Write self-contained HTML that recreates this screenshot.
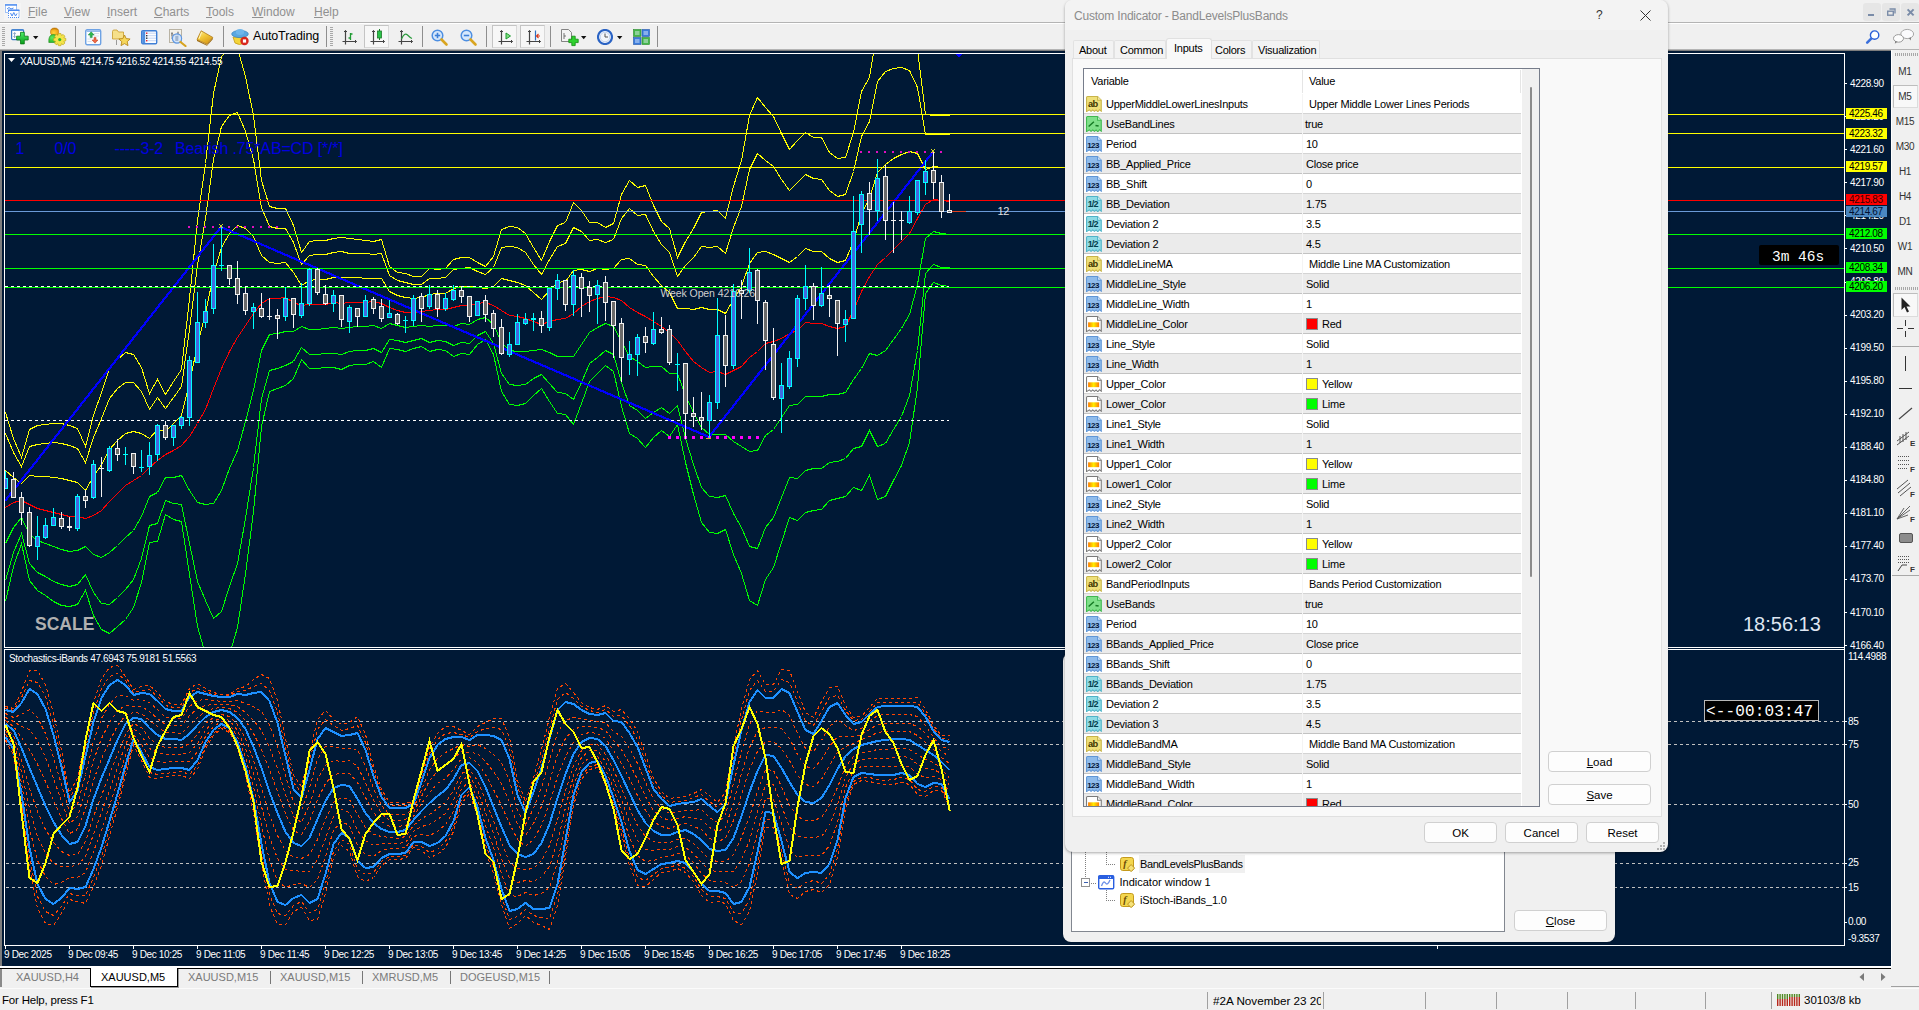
<!DOCTYPE html>
<html><head><meta charset="utf-8"><title>MT4</title><style>
html,body{margin:0;padding:0}
body{width:1919px;height:1010px;overflow:hidden;position:relative;background:#f0f0f0;font-family:"Liberation Sans",sans-serif;font-size:11px;color:#000}
.a{position:absolute}
.t{position:absolute;white-space:pre;line-height:1}
.menu{font-size:12px;color:#909090;top:6px}
.ct{font-size:10px;letter-spacing:-0.35px;color:#fff}
.pl{position:absolute;left:1846px;width:41px;height:11px;font-size:10px;letter-spacing:-0.35px;line-height:11px;text-indent:3px;white-space:pre}
.btn{position:absolute;box-sizing:border-box;border:1px solid #d0d0d0;border-radius:4px;background:#fdfdfd;font-size:11.5px;text-align:center;line-height:20.5px;height:21px}
.row{position:absolute;left:1084px;width:437px;height:20px}
.rt{position:absolute;white-space:pre;font-size:11px;letter-spacing:-0.25px;line-height:1;top:5px}
.tf{position:absolute;left:1891px;width:28px;text-align:center;font-size:10px;letter-spacing:-0.3px;color:#333;line-height:1}
.sw{position:absolute;left:1307px;top:4px;width:11px;height:11px;border:1px solid #7a7a7a;box-sizing:content-box}
</style></head><body>
<div class="a" style="left:0;top:0;width:1919px;height:22px;background:#f1f1f1"></div>
<div class="a" style="left:0;top:22px;width:1919px;height:1px;background:#b4b4b4"></div>
<div class="a" style="left:0;top:23px;width:1919px;height:1px;background:#fff"></div>
<div class="t menu" style="left:28px"><u>F</u>ile</div>
<div class="t menu" style="left:64px"><u>V</u>iew</div>
<div class="t menu" style="left:107px"><u>I</u>nsert</div>
<div class="t menu" style="left:154px"><u>C</u>harts</div>
<div class="t menu" style="left:206px"><u>T</u>ools</div>
<div class="t menu" style="left:252px"><u>W</u>indow</div>
<div class="t menu" style="left:314px"><u>H</u>elp</div>
<div class="a" style="left:4px;top:3px;width:17px;height:17px;background:#f5f5f5"></div>
<svg class="a" style="left:4px;top:3px" width="17" height="17" viewBox="4 3 17 17"><rect x="5.5" y="4.5" width="11" height="8" fill="#fff" stroke="#4a8af0" stroke-dasharray="1 1"/><path d="M5 5 h12" stroke="#4a8af0" stroke-width="1.4"/><path d="M7 9 l2 -1.5 l2 1.5 l2.5 -1" stroke="#4a8af0" fill="none"/><rect x="8.5" y="10" width="10.5" height="7.5" fill="#fff" stroke="#4a8af0" stroke-dasharray="1 1"/><path d="M8 10.3 h11.5" stroke="#4a8af0" stroke-width="1.4"/><path d="M10.5 13 l1.5 3 l1.8 -3.5 l1.7 3.5 l1.5 -2.5" stroke="#4a8af0" fill="none" stroke-width="1"/></svg>
<div class="a" style="left:1863px;top:3px;width:18px;height:18px;background:#e6e6e6;border-radius:3px"></div>
<div class="a" style="left:1882px;top:3px;width:18px;height:18px;background:#e6e6e6;border-radius:3px"></div>
<div class="a" style="left:1901px;top:3px;width:18px;height:18px;background:#e6e6e6;border-radius:3px"></div>
<svg class="a" style="left:1863px;top:3px" width="56" height="18" viewBox="1863 3 56 18"><path d="M1868 15 h6" stroke="#7a8ca8" stroke-width="2"/><path d="M1889.5 9 h5.5 v4.5" stroke="#7a8ca8" stroke-width="1.4" fill="none"/><rect x="1887.7" y="11.2" width="5.6" height="4" fill="none" stroke="#7a8ca8" stroke-width="1.4"/><path d="M1907.6 9.4 l6 6 M1913.6 9.4 l-6 6" stroke="#7a8ca8" stroke-width="2"/></svg>
<div class="a" style="left:0;top:24px;width:1919px;height:26px;background:#f0f0f0"></div>
<div class="a" style="left:0;top:49px;width:1919px;height:1px;background:#b4b4b4"></div>
<div class="a" style="left:2px;top:27px;width:3px;height:19px;background:repeating-linear-gradient(to bottom,#a8a8a8 0,#a8a8a8 1px,transparent 1px,transparent 2px)"></div>
<svg class="a" style="left:11px;top:29px" width="18" height="16" viewBox="0 0 18 16" ><defs><linearGradient id="gp" x1="0" y1="0" x2="0" y2="1"><stop offset="0" stop-color="#4cf06a"/><stop offset="1" stop-color="#0a9a1a"/></linearGradient></defs><rect x="0.6" y="0.6" width="12" height="10" rx="1" fill="#fff" stroke="#3a7ac8" stroke-width="1.2"/><path d="M1 1.3 h11.2" stroke="#5b98e0" stroke-width="1.4"/><path d="M3.6 3.6 V8.6 M2.4 4.8 l1.2 -1.2 l1.2 1.2 M2.4 7.4 l1.2 1.2 l1.2 -1.2" stroke="#7a98c0" stroke-width="0.9" fill="none"/><path d="M5.6 7.2 h3.9 v-3.9 h3.8 v3.9 h3.9 v3.8 h-3.9 v3.9 h-3.8 v-3.9 h-3.9z" fill="url(#gp)" stroke="#0a7a14" stroke-width="0.8"/></svg>
<svg class="a" style="left:33px;top:36px" width="6" height="4" viewBox="0 0 6 4" ><path d="M0 0 H5.4 L2.7 3.2 Z" fill="#111"/></svg>
<svg class="a" style="left:48px;top:27px" width="20" height="20" viewBox="0 0 20 20" ><defs><radialGradient id="hd" cx="0.4" cy="0.6" r="0.7"><stop offset="0" stop-color="#ffd23a"/><stop offset="1" stop-color="#e8920a"/></radialGradient><radialGradient id="bd" cx="0.35" cy="0.4" r="0.8"><stop offset="0" stop-color="#5fe85f"/><stop offset="1" stop-color="#18a818"/></radialGradient></defs><ellipse cx="6.6" cy="4.9" rx="4.1" ry="3.9" fill="url(#hd)" stroke="#b8700a" stroke-width="0.6"/><path d="M2.6 2.8 q4 -3.5 8 0 q-4 -1.2 -8 0z" fill="#c07a08"/><path d="M0.8 15.5 q-0.6 -8 4.6 -8 q5.2 0 5 8z" fill="url(#bd)" stroke="#1c8a1c" stroke-width="0.6"/><path d="M17.78 11.37 L17.78 13.83 L15.86 14.31 L15.85 14.33 L16.87 16.03 L15.13 17.77 L13.43 16.75 L13.41 16.76 L12.93 18.68 L10.47 18.68 L9.99 16.76 L9.97 16.75 L8.27 17.77 L6.53 16.03 L7.55 14.33 L7.54 14.31 L5.62 13.83 L5.62 11.37 L7.54 10.89 L7.55 10.87 L6.53 9.17 L8.27 7.43 L9.97 8.45 L9.99 8.44 L10.47 6.52 L12.93 6.52 L13.41 8.44 L13.43 8.45 L15.13 7.43 L16.87 9.17 L15.85 10.87 L15.86 10.89Z" fill="#f3e44a" stroke="#c2a61a" stroke-width="0.7"/><circle cx="11.7" cy="12.6" r="1.6" fill="#2fb52a"/></svg>
<div class="a" style="left:75px;top:26px;width:1px;height:21px;background:#8e8e8e"></div>
<svg class="a" style="left:85px;top:29px" width="17" height="17" viewBox="0 0 17 17" ><rect x="0.7" y="0.7" width="15" height="15" rx="1.5" fill="#fbfdff" stroke="#6ea2e4" stroke-width="1.4"/><path d="M1.5 2.2 h13.5" stroke="#8ab4ea" stroke-width="1.4"/><path d="M9 4.5 h5 M9 7 h5 M2.5 10 h4 M2.5 12.5 h4" stroke="#d0d8e4" stroke-width="0.8"/><path d="M5.2 8.6 v-2.6 h-2 l3 -3.2 l3 3.2 h-2 v2.6z" fill="#2fb84f" stroke="#14803a" stroke-width="0.5"/><path d="M9 8.4 v2.6 h-2 l3 3.2 l3 -3.2 h-2 v-2.6z" fill="#f06a44" stroke="#b83a1c" stroke-width="0.5"/></svg>
<svg class="a" style="left:112px;top:29px" width="19" height="17" viewBox="0 0 19 17" ><path d="M0.5 2.5 q0 -1.5 1.5 -1.5 h3 l1.5 2 h5 v7 h-11z" fill="#f6e08a" stroke="#c79b2c" stroke-width="0.8"/><path d="M4.5 11.5 v4.5" stroke="#444" stroke-width="1" stroke-dasharray="1 1"/><path d="M12.5 6 l1.7 3.6 l3.9 0.4 l-2.9 2.7 l0.8 3.9 l-3.5 -2 l-3.5 2 l0.8 -3.9 l-2.9 -2.7 l3.9 -0.4z" fill="#f6d75a" stroke="#b8881c" stroke-width="0.9"/></svg>
<svg class="a" style="left:141px;top:30px" width="17" height="15" viewBox="0 0 17 15" ><rect x="0.7" y="0.7" width="15" height="13" rx="1.2" fill="#fdfdff" stroke="#3f7fd6" stroke-width="1.4"/><rect x="1.2" y="1.2" width="3" height="12" fill="#4f8fe0"/><path d="M5 3.2 h10 M5 5.7 h10 M5 8.2 h10 M5 10.7 h10" stroke="#b8cdf0" stroke-width="0.8"/><rect x="5" y="2.5" width="1.4" height="1.4" fill="#e22"/><rect x="5" y="5" width="1.4" height="1.4" fill="#333"/><rect x="5" y="7.5" width="1.4" height="1.4" fill="#333"/><rect x="5" y="10" width="1.4" height="1.4" fill="#e22"/></svg>
<svg class="a" style="left:169px;top:29px" width="19" height="18" viewBox="0 0 19 18" ><rect x="0.5" y="0.5" width="12" height="13" fill="#f4f1ea" stroke="#b9b3a4"/><path d="M3 3 v7 M2 4.5 h2 M9 2.5 v7 M8 4 h2 M2 6 h9" stroke="#777" stroke-width="0.8"/><circle cx="8" cy="9.5" r="4.6" fill="#cfe3fb" fill-opacity="0.85" stroke="#5d97e3" stroke-width="1.2"/><rect x="6.3" y="7" width="3" height="5" fill="#9fb4cf"/><path d="M11.5 13 l5 4" stroke="#d7a320" stroke-width="2.2" stroke-linecap="round"/></svg>
<svg class="a" style="left:196px;top:30px" width="18" height="16" viewBox="0 0 18 16" ><defs><linearGradient id="bk" x1="0" y1="0" x2="0.6" y2="1"><stop offset="0" stop-color="#fff0a0"/><stop offset="0.5" stop-color="#f2c83a"/><stop offset="1" stop-color="#d89a1a"/></linearGradient></defs><path d="M1 9.5 L11 14.9 L16.8 7.6 L16.8 9.2 L11 15.8 L1 11z" fill="#9a6a14"/><path d="M5.2 0.8 L16.8 7.4 L11 14.3 L1 9.6 Z" fill="url(#bk)" stroke="#b07a16" stroke-width="0.8"/><path d="M5.6 2.2 L3 8.8" stroke="#fff6c0" stroke-width="1"/></svg>
<div class="a" style="left:223px;top:26px;width:1px;height:21px;background:#8e8e8e"></div>
<svg class="a" style="left:231px;top:28px" width="19" height="18" viewBox="0 0 19 18" ><path d="M2 9 h13 l-2 6 q-4.5 3 -9 0z" fill="#f3d43a" stroke="#c49a18" stroke-width="0.8"/><ellipse cx="9" cy="6" rx="8.3" ry="3.6" fill="#5aa7e0" stroke="#2f7fc0" stroke-width="0.7"/><ellipse cx="9" cy="4" rx="4.2" ry="3" fill="#6fb6ea"/><circle cx="13.5" cy="13" r="4.2" fill="#d8261c"/><rect x="11.9" y="11.4" width="3.2" height="3.2" fill="#fff"/></svg>
<div class="t" style="left:253px;top:30px;font-size:12.5px;letter-spacing:-0.15px;color:#000">AutoTrading</div>
<div class="a" style="left:326px;top:26px;width:1px;height:21px;background:#8e8e8e"></div>
<div class="a" style="left:330px;top:27px;width:3px;height:19px;background:repeating-linear-gradient(to bottom,#a8a8a8 0,#a8a8a8 1px,transparent 1px,transparent 2px)"></div>
<svg class="a" style="left:342px;top:30px" width="15" height="15" viewBox="0 0 15 15" ><path d="M3.5 0.5 v14 M0.5 11.5 h14" stroke="#444" stroke-width="1.2"/><path d="M2 2 l1.5 -1.5 l1.5 1.5 M13 10 l1.5 1.5 l-1.5 1.5" stroke="#444" fill="none"/><path d="M8.5 3 v7 M6.5 8 h2 M8.5 4 h2" stroke="#1e9a32" stroke-width="1.3"/></svg>
<div class="a" style="left:364px;top:25px;width:25px;height:23px;box-sizing:border-box;background:#f7f7f7;border:1px solid #d9d9d9;border-top-color:#c4c4c4;border-left-color:#c4c4c4"></div>
<svg class="a" style="left:370px;top:29px" width="15" height="16" viewBox="0 0 15 16" ><path d="M3.5 1.5 v14 M0.5 12.5 h14" stroke="#444" stroke-width="1.2"/><path d="M2 3 l1.5 -1.5 l1.5 1.5 M13 11 l1.5 1.5 l-1.5 1.5" stroke="#444" fill="none"/><path d="M9.5 0 v11" stroke="#1e7a28"/><rect x="7.5" y="2" width="4" height="7" fill="#2bc24a" stroke="#1e7a28" stroke-width="0.8"/></svg>
<svg class="a" style="left:398px;top:30px" width="15" height="15" viewBox="0 0 15 15" ><path d="M3.5 0.5 v14 M0.5 11.5 h14" stroke="#444" stroke-width="1.2"/><path d="M2 2 l1.5 -1.5 l1.5 1.5 M13 10 l1.5 1.5 l-1.5 1.5" stroke="#444" fill="none"/><path d="M3.5 9 q3 -7 6 -4 t4.5 3.5" stroke="#2a9a3c" stroke-width="1.2" fill="none"/></svg>
<div class="a" style="left:422px;top:26px;width:1px;height:21px;background:#8e8e8e"></div>
<svg class="a" style="left:431px;top:29px" width="18" height="18" viewBox="0 0 18 18" ><circle cx="6.5" cy="6.5" r="5.3" fill="#d6e8fc" stroke="#4d8fe2" stroke-width="1.5"/><path d="M10.5 10.5 l5 5" stroke="#d9a520" stroke-width="2.6" stroke-linecap="round"/><path d="M3.8 6.5 h5.4" stroke="#3c7fd8" stroke-width="1.6"/><path d="M6.5 3.8 v5.4" stroke="#3c7fd8" stroke-width="1.6"/></svg>
<svg class="a" style="left:460px;top:29px" width="18" height="18" viewBox="0 0 18 18" ><circle cx="6.5" cy="6.5" r="5.3" fill="#d6e8fc" stroke="#4d8fe2" stroke-width="1.5"/><path d="M10.5 10.5 l5 5" stroke="#d9a520" stroke-width="2.6" stroke-linecap="round"/><path d="M3.8 6.5 h5.4" stroke="#3c7fd8" stroke-width="1.6"/></svg>
<div class="a" style="left:486px;top:26px;width:1px;height:21px;background:#8e8e8e"></div>
<div class="a" style="left:492px;top:25px;width:25px;height:23px;box-sizing:border-box;background:#f7f7f7;border:1px solid #d9d9d9;border-top-color:#c4c4c4;border-left-color:#c4c4c4"></div>
<svg class="a" style="left:498px;top:30px" width="15" height="15" viewBox="0 0 15 15" ><path d="M3.5 0.5 v14 M0.5 11.5 h14" stroke="#444" stroke-width="1.2"/><path d="M2 2 l1.5 -1.5 l1.5 1.5 M13 10 l1.5 1.5 l-1.5 1.5" stroke="#444" fill="none"/><path d="M8 3 l4.5 3 l-4.5 3z" fill="#7fe07f" stroke="#1e9a32" stroke-width="1"/></svg>
<div class="a" style="left:520px;top:25px;width:25px;height:23px;box-sizing:border-box;background:#f7f7f7;border:1px solid #d9d9d9;border-top-color:#c4c4c4;border-left-color:#c4c4c4"></div>
<svg class="a" style="left:526px;top:30px" width="15" height="15" viewBox="0 0 15 15" ><path d="M3.5 0.5 v14 M0.5 11.5 h14" stroke="#444" stroke-width="1.2"/><path d="M2 2 l1.5 -1.5 l1.5 1.5 M13 10 l1.5 1.5 l-1.5 1.5" stroke="#444" fill="none"/><path d="M9.5 0.5 v10" stroke="#2b6fc4" stroke-width="1.2"/><path d="M14 6 h-3.5 M12.5 4 l-2 2 l2 2" stroke="#d83a1c" stroke-width="1.1" fill="none"/></svg>
<div class="a" style="left:550px;top:26px;width:1px;height:21px;background:#8e8e8e"></div>
<svg class="a" style="left:561px;top:29px" width="18" height="18" viewBox="0 0 18 18" ><path d="M0.5 0.5 h7 l3 3 v9 h-10z" fill="#f4f4f4" stroke="#777" stroke-width="0.9"/><path d="M3 4 v6 M3 7 h2" stroke="#555" stroke-width="0.8"/><path d="M9 8 h3 v-3 h3.4 v3 h3 v3.4 h-3 v3 h-3.4 v-3 h-3z" transform="translate(-1.2,2.2)" fill="#2fd12f" stroke="#0c8a0c" stroke-width="0.8"/></svg>
<svg class="a" style="left:581px;top:36px" width="6" height="4" viewBox="0 0 6 4" ><path d="M0 0 H5.4 L2.7 3.2 Z" fill="#111"/></svg>
<svg class="a" style="left:597px;top:29px" width="16" height="16" viewBox="0 0 16 16" ><circle cx="8" cy="8" r="7" fill="#fff" stroke="#2a63c4" stroke-width="2.2"/><circle cx="8" cy="8" r="4.8" fill="#f3f6fb" stroke="#9bb6e0" stroke-width="0.6"/><path d="M8 4.5 V8 H11" stroke="#555" stroke-width="1" fill="none"/></svg>
<svg class="a" style="left:617px;top:36px" width="6" height="4" viewBox="0 0 6 4" ><path d="M0 0 H5.4 L2.7 3.2 Z" fill="#111"/></svg>
<svg class="a" style="left:633px;top:29px" width="17" height="16" viewBox="0 0 17 16" ><rect x="0.5" y="0.5" width="7.5" height="7" fill="#43b649" stroke="#2a8a30" stroke-width="0.6"/><rect x="9" y="0.5" width="7.5" height="7" fill="#3a7bdc" stroke="#2458a8" stroke-width="0.6"/><rect x="0.5" y="8.5" width="7.5" height="7" fill="#3a7bdc" stroke="#2458a8" stroke-width="0.6"/><rect x="9" y="8.5" width="7.5" height="7" fill="#43b649" stroke="#2a8a30" stroke-width="0.6"/><path d="M2 3 h4.5 M2 5 h4.5 M10.5 3 h4.5 M10.5 5 h4.5 M2 11 h4.5 M2 13 h4.5 M10.5 11 h4.5 M10.5 13 h4.5" stroke="#e8f2ff" stroke-width="0.9"/></svg>
<div class="a" style="left:657px;top:26px;width:1px;height:21px;background:#8e8e8e"></div>
<svg class="a" style="left:1864px;top:29px" width="16" height="16" viewBox="0 0 16 16" ><circle cx="10.6" cy="6.1" r="4.2" fill="#fff" stroke="#2a5fd8" stroke-width="1.4"/><path d="M7.2 9.6 l-4 4" stroke="#3a6fdc" stroke-width="2.6" stroke-linecap="round"/></svg>
<svg class="a" style="left:1892px;top:28px" width="24" height="18" viewBox="0 0 24 18" ><ellipse cx="15.2" cy="6" rx="6.4" ry="4.6" fill="#fbfbfd" stroke="#a8a8a8"/><path d="M17 10 l1.6 2.4 l0.4 -2.8" fill="#777"/><ellipse cx="6.5" cy="10.4" rx="5" ry="3.8" fill="#fdfdfd" stroke="#9a9a9a"/><path d="M3.4 13 l-0.6 2.8 l2.6 -2" fill="#777"/></svg>
<div class="a" style="left:0;top:50px;width:1891px;height:916px;background:#7d7d7d"></div>
<div class="a" style="left:2px;top:51px;width:1889px;height:915px;background:#001936"></div>
<div class="a" style="left:0;top:966px;width:1891px;height:2px;background:#fff"></div>
<svg class="a" style="left:0;top:0" width="1919" height="1010" viewBox="0 0 1919 1010" shape-rendering="crispEdges"><defs><clipPath id="mc"><rect x="5" y="54" width="1839" height="593"/></clipPath></defs><polyline points="5.5,412.5 13.5,438.5 21.5,457.5 29.5,429.5 37.5,425.5 45.5,424.5 53.5,423.5 61.5,423.5 69.5,425.5 77.5,428.5 85.5,446.5 93.5,415.5 101.5,392.5 109.5,368.5 117.5,359.5 125.5,352.5 133.5,354.5 141.5,367.5 149.5,393.5 157.5,379.5 165.5,394.5 173.5,381.5 181.5,369.5 189.5,298.5 197.5,220.5 205.5,163.5 213.5,93.5 221.5,56.5 229.5,47.5 237.5,48.5 245.5,76.5 253.5,115.5 261.5,180.5 269.5,206.5 277.5,208.5 285.5,208.5 293.5,225.5 301.5,252.5 309.5,241.5 317.5,240.5 325.5,240.5 333.5,238.5 341.5,237.5 349.5,238.5 357.5,239.5 365.5,240.5 373.5,241.5 381.5,239.5 389.5,266.5 397.5,272.5 405.5,273.5 413.5,276.5 421.5,276.5 429.5,268.5 437.5,269.5 445.5,268.5 453.5,259.5 461.5,257.5 469.5,257.5 477.5,262.5 485.5,266.5 493.5,256.5 501.5,229.5 509.5,226.5 517.5,227.5 525.5,233.5 533.5,247.5 541.5,260.5 549.5,241.5 557.5,225.5 565.5,222.5 573.5,202.5 581.5,210.5 589.5,222.5 597.5,222.5 605.5,227.5 613.5,223.5 621.5,194.5 629.5,180.5 637.5,187.5 645.5,185.5 653.5,205.5 661.5,221.5 669.5,228.5 677.5,257.5 685.5,241.5 693.5,228.5 701.5,212.5 709.5,211.5 717.5,210.5 725.5,218.5 733.5,186.5 741.5,160.5 749.5,115.5 757.5,97.5 765.5,107.5 773.5,116.5 781.5,133.5 789.5,149.5 797.5,140.5 805.5,132.5 813.5,137.5 821.5,137.5 829.5,152.5 837.5,158.5 845.5,157.5 853.5,132.5 861.5,91.5 869.5,77.5 877.5,29.5 885.5,18.5 893.5,17.5 901.5,17.5 909.5,23.5 917.5,49.5 925.5,114.5 933.5,115.5 941.5,115.5 949.5,115.5" fill="none" stroke="#ffff00" stroke-width="1" clip-path="url(#mc)"/><polyline points="5.5,433.5 13.5,452.5 21.5,466.5 29.5,446.5 37.5,444.5 45.5,443.5 53.5,442.5 61.5,443.5 69.5,445.5 77.5,448.5 85.5,462.5 93.5,437.5 101.5,418.5 109.5,398.5 117.5,388.5 125.5,382.5 133.5,382.5 141.5,391.5 149.5,409.5 157.5,397.5 165.5,408.5 173.5,397.5 181.5,386.5 189.5,329.5 197.5,265.5 205.5,218.5 213.5,159.5 221.5,126.5 229.5,115.5 237.5,112.5 245.5,131.5 253.5,159.5 261.5,207.5 269.5,226.5 277.5,228.5 285.5,228.5 293.5,242.5 301.5,264.5 309.5,255.5 317.5,254.5 325.5,254.5 333.5,252.5 341.5,251.5 349.5,253.5 357.5,253.5 365.5,253.5 373.5,254.5 381.5,253.5 389.5,275.5 397.5,280.5 405.5,282.5 413.5,284.5 421.5,284.5 429.5,278.5 437.5,278.5 445.5,277.5 453.5,269.5 461.5,268.5 469.5,267.5 477.5,271.5 485.5,274.5 493.5,267.5 501.5,247.5 509.5,246.5 517.5,247.5 525.5,252.5 533.5,264.5 541.5,274.5 549.5,259.5 557.5,246.5 565.5,243.5 573.5,227.5 581.5,231.5 589.5,240.5 597.5,239.5 605.5,242.5 613.5,239.5 621.5,218.5 629.5,208.5 637.5,215.5 645.5,214.5 653.5,231.5 661.5,244.5 669.5,252.5 677.5,276.5 685.5,265.5 693.5,257.5 701.5,246.5 709.5,247.5 717.5,246.5 725.5,253.5 733.5,227.5 741.5,206.5 749.5,169.5 757.5,153.5 765.5,160.5 773.5,166.5 781.5,179.5 789.5,190.5 797.5,182.5 805.5,174.5 813.5,178.5 821.5,179.5 829.5,190.5 837.5,196.5 845.5,194.5 853.5,171.5 861.5,136.5 869.5,121.5 877.5,81.5 885.5,71.5 893.5,68.5 901.5,67.5 909.5,70.5 917.5,87.5 925.5,134.5 933.5,134.5 941.5,134.5 949.5,134.5" fill="none" stroke="#ffff00" stroke-width="1" clip-path="url(#mc)"/><polyline points="5.5,470.5 13.5,477.5 21.5,483.5 29.5,475.5 37.5,476.5 45.5,476.5 53.5,477.5 61.5,478.5 69.5,480.5 77.5,482.5 85.5,490.5 93.5,476.5 101.5,464.5 109.5,449.5 117.5,440.5 125.5,433.5 133.5,431.5 141.5,433.5 149.5,438.5 157.5,429.5 165.5,431.5 173.5,423.5 181.5,415.5 189.5,383.5 197.5,344.5 205.5,313.5 213.5,274.5 221.5,247.5 229.5,233.5 237.5,225.5 245.5,228.5 253.5,236.5 261.5,255.5 269.5,262.5 277.5,263.5 285.5,262.5 293.5,272.5 301.5,285.5 309.5,280.5 317.5,279.5 325.5,279.5 333.5,277.5 341.5,277.5 349.5,277.5 357.5,277.5 365.5,278.5 373.5,278.5 381.5,278.5 389.5,291.5 397.5,295.5 405.5,297.5 413.5,298.5 421.5,297.5 429.5,294.5 437.5,293.5 445.5,293.5 453.5,288.5 461.5,286.5 469.5,286.5 477.5,287.5 485.5,288.5 493.5,286.5 501.5,278.5 509.5,280.5 517.5,282.5 525.5,285.5 533.5,292.5 541.5,299.5 549.5,290.5 557.5,282.5 565.5,281.5 573.5,270.5 581.5,269.5 589.5,271.5 597.5,268.5 605.5,269.5 613.5,268.5 621.5,259.5 629.5,258.5 637.5,264.5 645.5,265.5 653.5,276.5 661.5,285.5 669.5,292.5 677.5,308.5 685.5,308.5 693.5,309.5 701.5,307.5 709.5,309.5 717.5,309.5 725.5,313.5 733.5,299.5 741.5,286.5 749.5,263.5 757.5,252.5 765.5,251.5 773.5,254.5 781.5,258.5 789.5,262.5 797.5,256.5 805.5,248.5 813.5,251.5 821.5,251.5 829.5,258.5 837.5,262.5 845.5,260.5 853.5,241.5 861.5,213.5 869.5,198.5 877.5,172.5 885.5,164.5 893.5,158.5 901.5,154.5 909.5,151.5 917.5,153.5 925.5,169.5 933.5,166.5 941.5,167.5 949.5,167.5" fill="none" stroke="#ffff00" stroke-width="1" clip-path="url(#mc)"/><polyline points="5.5,601.5 13.5,566.5 21.5,543.5 29.5,580.5 37.5,590.5 45.5,595.5 53.5,601.5 61.5,605.5 69.5,606.5 77.5,604.5 85.5,590.5 93.5,615.5 101.5,629.5 109.5,633.5 117.5,626.5 125.5,619.5 133.5,607.5 141.5,582.5 149.5,542.5 157.5,541.5 165.5,514.5 173.5,519.5 181.5,521.5 189.5,574.5 197.5,626.5 205.5,654.5 213.5,684.5 221.5,680.5 229.5,654.5 237.5,627.5 245.5,573.5 253.5,511.5 261.5,426.5 269.5,391.5 277.5,388.5 285.5,385.5 293.5,378.5 301.5,359.5 309.5,368.5 317.5,368.5 325.5,367.5 333.5,367.5 341.5,369.5 349.5,365.5 357.5,364.5 365.5,364.5 373.5,361.5 381.5,367.5 389.5,348.5 397.5,349.5 405.5,351.5 413.5,348.5 421.5,346.5 429.5,351.5 437.5,349.5 445.5,350.5 453.5,356.5 461.5,353.5 469.5,354.5 477.5,344.5 485.5,339.5 493.5,354.5 501.5,391.5 509.5,404.5 517.5,405.5 525.5,403.5 533.5,395.5 541.5,388.5 549.5,401.5 557.5,413.5 565.5,414.5 573.5,424.5 581.5,403.5 589.5,381.5 597.5,373.5 605.5,365.5 613.5,371.5 621.5,406.5 629.5,433.5 637.5,438.5 645.5,447.5 653.5,437.5 661.5,430.5 669.5,436.5 677.5,424.5 685.5,462.5 693.5,494.5 701.5,522.5 709.5,532.5 717.5,533.5 725.5,529.5 733.5,554.5 741.5,573.5 749.5,600.5 757.5,605.5 765.5,579.5 773.5,567.5 781.5,542.5 789.5,517.5 797.5,520.5 805.5,512.5 813.5,510.5 821.5,509.5 829.5,500.5 837.5,498.5 845.5,496.5 853.5,487.5 861.5,490.5 869.5,475.5 877.5,499.5 885.5,496.5 893.5,480.5 901.5,465.5 909.5,442.5 917.5,387.5 925.5,293.5 933.5,282.5 941.5,285.5 949.5,286.5" fill="none" stroke="#00ff00" stroke-width="1" clip-path="url(#mc)"/><polyline points="5.5,580.5 13.5,552.5 21.5,533.5 29.5,563.5 37.5,572.5 45.5,576.5 53.5,581.5 61.5,584.5 69.5,586.5 77.5,584.5 85.5,574.5 93.5,592.5 101.5,603.5 109.5,604.5 117.5,597.5 125.5,589.5 133.5,579.5 141.5,558.5 149.5,525.5 157.5,523.5 165.5,500.5 173.5,503.5 181.5,504.5 189.5,543.5 197.5,581.5 205.5,600.5 213.5,618.5 221.5,611.5 229.5,586.5 237.5,563.5 245.5,518.5 253.5,467.5 261.5,398.5 269.5,370.5 277.5,368.5 285.5,365.5 293.5,361.5 301.5,347.5 309.5,354.5 317.5,354.5 325.5,353.5 333.5,353.5 341.5,354.5 349.5,351.5 357.5,350.5 365.5,350.5 373.5,348.5 381.5,352.5 389.5,339.5 397.5,340.5 405.5,342.5 413.5,340.5 421.5,338.5 429.5,342.5 437.5,340.5 445.5,341.5 453.5,345.5 461.5,342.5 469.5,343.5 477.5,335.5 485.5,331.5 493.5,343.5 501.5,373.5 509.5,384.5 517.5,385.5 525.5,384.5 533.5,378.5 541.5,374.5 549.5,383.5 557.5,392.5 565.5,393.5 573.5,399.5 581.5,382.5 589.5,363.5 597.5,357.5 605.5,350.5 613.5,354.5 621.5,382.5 629.5,405.5 637.5,410.5 645.5,418.5 653.5,412.5 661.5,407.5 669.5,413.5 677.5,405.5 685.5,438.5 693.5,464.5 701.5,487.5 709.5,496.5 717.5,497.5 725.5,495.5 733.5,513.5 741.5,527.5 749.5,546.5 757.5,548.5 765.5,527.5 773.5,517.5 781.5,497.5 789.5,477.5 797.5,478.5 805.5,470.5 813.5,468.5 821.5,468.5 829.5,462.5 837.5,461.5 845.5,458.5 853.5,448.5 861.5,446.5 869.5,430.5 877.5,446.5 885.5,443.5 893.5,429.5 901.5,416.5 909.5,395.5 917.5,350.5 925.5,273.5 933.5,264.5 941.5,267.5 949.5,267.5" fill="none" stroke="#00ff00" stroke-width="1" clip-path="url(#mc)"/><polyline points="5.5,543.5 13.5,527.5 21.5,517.5 29.5,534.5 37.5,540.5 45.5,543.5 53.5,546.5 61.5,549.5 69.5,551.5 77.5,550.5 85.5,546.5 93.5,554.5 101.5,557.5 109.5,552.5 117.5,545.5 125.5,537.5 133.5,530.5 141.5,516.5 149.5,496.5 157.5,492.5 165.5,477.5 173.5,477.5 181.5,475.5 189.5,490.5 197.5,502.5 205.5,504.5 213.5,503.5 221.5,490.5 229.5,468.5 237.5,450.5 245.5,421.5 253.5,390.5 261.5,350.5 269.5,334.5 277.5,333.5 285.5,331.5 293.5,331.5 301.5,326.5 309.5,329.5 317.5,329.5 325.5,328.5 333.5,327.5 341.5,328.5 349.5,327.5 357.5,326.5 365.5,326.5 373.5,325.5 381.5,328.5 389.5,323.5 397.5,325.5 405.5,327.5 413.5,326.5 421.5,325.5 429.5,326.5 437.5,325.5 445.5,325.5 453.5,326.5 461.5,323.5 469.5,324.5 477.5,319.5 485.5,317.5 493.5,324.5 501.5,342.5 509.5,350.5 517.5,351.5 525.5,351.5 533.5,350.5 541.5,349.5 549.5,352.5 557.5,356.5 565.5,356.5 573.5,356.5 581.5,344.5 589.5,332.5 597.5,327.5 605.5,323.5 613.5,326.5 621.5,341.5 629.5,356.5 637.5,361.5 645.5,367.5 653.5,366.5 661.5,366.5 669.5,373.5 677.5,373.5 685.5,395.5 693.5,412.5 701.5,427.5 709.5,434.5 717.5,434.5 725.5,434.5 733.5,441.5 741.5,446.5 749.5,451.5 757.5,450.5 765.5,435.5 773.5,429.5 781.5,417.5 789.5,405.5 797.5,404.5 805.5,396.5 813.5,396.5 821.5,396.5 829.5,394.5 837.5,394.5 845.5,392.5 853.5,379.5 861.5,368.5 869.5,353.5 877.5,355.5 885.5,350.5 893.5,339.5 901.5,328.5 909.5,314.5 917.5,284.5 925.5,238.5 933.5,231.5 941.5,233.5 949.5,234.5" fill="none" stroke="#00ff00" stroke-width="1" clip-path="url(#mc)"/><polyline points="5.5,507.5 13.5,502.5 21.5,500.5 29.5,504.5 37.5,508.5 45.5,510.5 53.5,512.5 61.5,514.5 69.5,516.5 77.5,516.5 85.5,518.5 93.5,515.5 101.5,510.5 109.5,501.5 117.5,493.5 125.5,485.5 133.5,480.5 141.5,475.5 149.5,467.5 157.5,460.5 165.5,454.5 173.5,450.5 181.5,445.5 189.5,436.5 197.5,423.5 205.5,409.5 213.5,388.5 221.5,368.5 229.5,351.5 237.5,337.5 245.5,325.5 253.5,313.5 261.5,303.5 269.5,298.5 277.5,298.5 285.5,297.5 293.5,302.5 301.5,305.5 309.5,304.5 317.5,304.5 325.5,304.5 333.5,302.5 341.5,303.5 349.5,302.5 357.5,302.5 365.5,302.5 373.5,301.5 381.5,303.5 389.5,307.5 397.5,310.5 405.5,312.5 413.5,312.5 421.5,311.5 429.5,310.5 437.5,309.5 445.5,309.5 453.5,307.5 461.5,305.5 469.5,305.5 477.5,303.5 485.5,302.5 493.5,305.5 501.5,310.5 509.5,315.5 517.5,316.5 525.5,318.5 533.5,321.5 541.5,324.5 549.5,321.5 557.5,319.5 565.5,318.5 573.5,313.5 581.5,306.5 589.5,301.5 597.5,298.5 605.5,296.5 613.5,297.5 621.5,300.5 629.5,307.5 637.5,312.5 645.5,316.5 653.5,321.5 661.5,326.5 669.5,332.5 677.5,340.5 685.5,351.5 693.5,361.5 701.5,367.5 709.5,372.5 717.5,371.5 725.5,374.5 733.5,370.5 741.5,366.5 749.5,357.5 757.5,351.5 765.5,343.5 773.5,341.5 781.5,338.5 789.5,333.5 797.5,330.5 805.5,322.5 813.5,323.5 821.5,323.5 829.5,326.5 837.5,328.5 845.5,326.5 853.5,310.5 861.5,291.5 869.5,276.5 877.5,264.5 885.5,257.5 893.5,249.5 901.5,241.5 909.5,233.5 917.5,218.5 925.5,204.5 933.5,199.5 941.5,200.5 949.5,201.5" fill="none" stroke="#ff0000" stroke-width="1" clip-path="url(#mc)"/><polyline points="5,501 221,227 709,437 933,152" fill="none" stroke="#0000ff" stroke-width="2.2" clip-path="url(#mc)"/><path d="M5 114.5 H1844" stroke="#ffff00" stroke-width="1"/><path d="M5 133.5 H1844" stroke="#ffff00" stroke-width="1"/><path d="M5 167.5 H1844" stroke="#ffff00" stroke-width="1"/><path d="M5 200.5 H1844" stroke="#ff0000" stroke-width="1"/><path d="M5 211.5 H1844" stroke="#6a9ad8" stroke-width="1"/><path d="M5 234.5 H1844" stroke="#00ff00" stroke-width="1"/><path d="M5 268.5 H1844" stroke="#00ff00" stroke-width="1"/><path d="M5 287.5 H1844" stroke="#00ff00" stroke-width="1"/><path d="M5 286.5 H949" stroke="#fff" stroke-width="1" stroke-dasharray="3 3" stroke-dashoffset="0"/><path d="M5 420.5 H949" stroke="#fff" stroke-width="1" stroke-dasharray="3 3" stroke-dashoffset="0"/><rect x="188" y="226" width="2" height="2" fill="#e010c0"/><rect x="860" y="151" width="2" height="2" fill="#e010c0"/><rect x="668" y="436" width="3" height="3" rx="1" fill="#ff00ff"/><rect x="196" y="226" width="2" height="2" fill="#e010c0"/><rect x="868" y="151" width="2" height="2" fill="#e010c0"/><rect x="676" y="436" width="3" height="3" rx="1" fill="#ff00ff"/><rect x="204" y="226" width="2" height="2" fill="#e010c0"/><rect x="876" y="151" width="2" height="2" fill="#e010c0"/><rect x="684" y="436" width="3" height="3" rx="1" fill="#ff00ff"/><rect x="212" y="226" width="2" height="2" fill="#e010c0"/><rect x="884" y="151" width="2" height="2" fill="#e010c0"/><rect x="692" y="436" width="3" height="3" rx="1" fill="#ff00ff"/><rect x="220" y="226" width="2" height="2" fill="#e010c0"/><rect x="892" y="151" width="2" height="2" fill="#e010c0"/><rect x="700" y="436" width="3" height="3" rx="1" fill="#ff00ff"/><rect x="228" y="226" width="2" height="2" fill="#e010c0"/><rect x="900" y="151" width="2" height="2" fill="#e010c0"/><rect x="708" y="436" width="3" height="3" rx="1" fill="#ff00ff"/><rect x="236" y="226" width="2" height="2" fill="#e010c0"/><rect x="908" y="151" width="2" height="2" fill="#e010c0"/><rect x="716" y="436" width="3" height="3" rx="1" fill="#ff00ff"/><rect x="244" y="226" width="2" height="2" fill="#e010c0"/><rect x="916" y="151" width="2" height="2" fill="#e010c0"/><rect x="724" y="436" width="3" height="3" rx="1" fill="#ff00ff"/><rect x="252" y="226" width="2" height="2" fill="#e010c0"/><rect x="924" y="151" width="2" height="2" fill="#e010c0"/><rect x="732" y="436" width="3" height="3" rx="1" fill="#ff00ff"/><rect x="260" y="226" width="2" height="2" fill="#e010c0"/><rect x="932" y="151" width="2" height="2" fill="#e010c0"/><rect x="740" y="436" width="3" height="3" rx="1" fill="#ff00ff"/><rect x="268" y="226" width="2" height="2" fill="#e010c0"/><rect x="940" y="151" width="2" height="2" fill="#e010c0"/><rect x="748" y="436" width="3" height="3" rx="1" fill="#ff00ff"/><rect x="276" y="226" width="2" height="2" fill="#e010c0"/><rect x="756" y="436" width="3" height="3" rx="1" fill="#ff00ff"/><g clip-path="url(#mc)"><path d="M5.5 471 V489" stroke="#00ffff" stroke-width="1"/><rect x="3" y="478" width="5" height="11" fill="#00ffff"/><rect x="4" y="479" width="3" height="9" fill="#4169e1"/><path d="M13.5 472 V498" stroke="#f2f2f2" stroke-width="1"/><rect x="11" y="479" width="5" height="19" fill="#f2f2f2"/><rect x="12" y="480" width="3" height="17" fill="#6a6a6a"/><path d="M21.5 492 V525" stroke="#f2f2f2" stroke-width="1"/><rect x="19" y="497" width="5" height="16" fill="#f2f2f2"/><rect x="20" y="498" width="3" height="14" fill="#6a6a6a"/><path d="M29.5 507 V547" stroke="#f2f2f2" stroke-width="1"/><rect x="27" y="512" width="5" height="34" fill="#f2f2f2"/><rect x="28" y="513" width="3" height="32" fill="#6a6a6a"/><path d="M37.5 516 V560" stroke="#00ffff" stroke-width="1"/><rect x="35" y="536" width="5" height="11" fill="#00ffff"/><rect x="36" y="537" width="3" height="9" fill="#4169e1"/><path d="M45.5 518 V539" stroke="#00ffff" stroke-width="1"/><rect x="43" y="525" width="5" height="13" fill="#00ffff"/><rect x="44" y="526" width="3" height="11" fill="#4169e1"/><path d="M53.5 508 V526" stroke="#00ffff" stroke-width="1"/><rect x="51" y="517" width="5" height="9" fill="#00ffff"/><rect x="52" y="518" width="3" height="7" fill="#4169e1"/><path d="M61.5 512 V529" stroke="#f2f2f2" stroke-width="1"/><rect x="59" y="518" width="5" height="9" fill="#f2f2f2"/><rect x="60" y="519" width="3" height="7" fill="#6a6a6a"/><path d="M69.5 517 V531" stroke="#f2f2f2" stroke-width="1"/><rect x="67" y="526" width="5" height="2" fill="#f2f2f2"/><path d="M77.5 494 V531" stroke="#00ffff" stroke-width="1"/><rect x="75" y="496" width="5" height="33" fill="#00ffff"/><rect x="76" y="497" width="3" height="31" fill="#4169e1"/><path d="M85.5 490 V508" stroke="#f2f2f2" stroke-width="1"/><rect x="83" y="496" width="5" height="5" fill="#f2f2f2"/><rect x="84" y="497" width="3" height="3" fill="#6a6a6a"/><path d="M93.5 460 V499" stroke="#00ffff" stroke-width="1"/><rect x="91" y="464" width="5" height="34" fill="#00ffff"/><rect x="92" y="465" width="3" height="32" fill="#4169e1"/><path d="M101.5 457 V497" stroke="#f2f2f2" stroke-width="1"/><rect x="99" y="468" width="5" height="1" fill="#f2f2f2"/><path d="M109.5 446 V472" stroke="#00ffff" stroke-width="1"/><rect x="107" y="448" width="5" height="23" fill="#00ffff"/><rect x="108" y="449" width="3" height="21" fill="#4169e1"/><path d="M117.5 439 V461" stroke="#f2f2f2" stroke-width="1"/><rect x="115" y="448" width="5" height="7" fill="#f2f2f2"/><rect x="116" y="449" width="3" height="5" fill="#6a6a6a"/><path d="M125.5 447 V465" stroke="#00ffff" stroke-width="1"/><rect x="123" y="454" width="5" height="1" fill="#00ffff"/><path d="M133.5 453 V474" stroke="#f2f2f2" stroke-width="1"/><rect x="131" y="453" width="5" height="14" fill="#f2f2f2"/><rect x="132" y="454" width="3" height="12" fill="#6a6a6a"/><path d="M141.5 450 V472" stroke="#00ffff" stroke-width="1"/><rect x="139" y="467" width="5" height="1" fill="#00ffff"/><path d="M149.5 442 V475" stroke="#00ffff" stroke-width="1"/><rect x="147" y="455" width="5" height="12" fill="#00ffff"/><rect x="148" y="456" width="3" height="10" fill="#4169e1"/><path d="M157.5 424 V461" stroke="#00ffff" stroke-width="1"/><rect x="155" y="425" width="5" height="30" fill="#00ffff"/><rect x="156" y="426" width="3" height="28" fill="#4169e1"/><path d="M165.5 421 V440" stroke="#f2f2f2" stroke-width="1"/><rect x="163" y="425" width="5" height="13" fill="#f2f2f2"/><rect x="164" y="426" width="3" height="11" fill="#6a6a6a"/><path d="M173.5 425 V446" stroke="#00ffff" stroke-width="1"/><rect x="171" y="425" width="5" height="13" fill="#00ffff"/><rect x="172" y="426" width="3" height="11" fill="#4169e1"/><path d="M181.5 416 V429" stroke="#00ffff" stroke-width="1"/><rect x="179" y="417" width="5" height="9" fill="#00ffff"/><rect x="180" y="418" width="3" height="7" fill="#4169e1"/><path d="M189.5 356 V426" stroke="#00ffff" stroke-width="1"/><rect x="187" y="360" width="5" height="58" fill="#00ffff"/><rect x="188" y="361" width="3" height="56" fill="#4169e1"/><path d="M197.5 292 V363" stroke="#00ffff" stroke-width="1"/><rect x="195" y="322" width="5" height="41" fill="#00ffff"/><rect x="196" y="323" width="3" height="39" fill="#4169e1"/><path d="M205.5 299 V328" stroke="#00ffff" stroke-width="1"/><rect x="203" y="311" width="5" height="12" fill="#00ffff"/><rect x="204" y="312" width="3" height="10" fill="#4169e1"/><path d="M213.5 244 V314" stroke="#00ffff" stroke-width="1"/><rect x="211" y="265" width="5" height="44" fill="#00ffff"/><rect x="212" y="266" width="3" height="42" fill="#4169e1"/><path d="M221.5 227 V271" stroke="#00ffff" stroke-width="1"/><rect x="219" y="265" width="5" height="1" fill="#00ffff"/><path d="M229.5 265 V285" stroke="#f2f2f2" stroke-width="1"/><rect x="227" y="265" width="5" height="14" fill="#f2f2f2"/><rect x="228" y="266" width="3" height="12" fill="#6a6a6a"/><path d="M237.5 261 V304" stroke="#f2f2f2" stroke-width="1"/><rect x="235" y="278" width="5" height="17" fill="#f2f2f2"/><rect x="236" y="279" width="3" height="15" fill="#6a6a6a"/><path d="M245.5 287 V315" stroke="#f2f2f2" stroke-width="1"/><rect x="243" y="293" width="5" height="18" fill="#f2f2f2"/><rect x="244" y="294" width="3" height="16" fill="#6a6a6a"/><path d="M253.5 303 V329" stroke="#00ffff" stroke-width="1"/><rect x="251" y="307" width="5" height="5" fill="#00ffff"/><rect x="252" y="308" width="3" height="3" fill="#4169e1"/><path d="M261.5 293 V318" stroke="#f2f2f2" stroke-width="1"/><rect x="259" y="308" width="5" height="9" fill="#f2f2f2"/><rect x="260" y="309" width="3" height="7" fill="#6a6a6a"/><path d="M269.5 298 V320" stroke="#f2f2f2" stroke-width="1"/><rect x="267" y="316" width="5" height="1" fill="#f2f2f2"/><path d="M277.5 309 V339" stroke="#f2f2f2" stroke-width="1"/><rect x="275" y="315" width="5" height="4" fill="#f2f2f2"/><rect x="276" y="316" width="3" height="2" fill="#6a6a6a"/><path d="M285.5 287 V321" stroke="#00ffff" stroke-width="1"/><rect x="283" y="298" width="5" height="19" fill="#00ffff"/><rect x="284" y="299" width="3" height="17" fill="#4169e1"/><path d="M293.5 298 V328" stroke="#f2f2f2" stroke-width="1"/><rect x="291" y="298" width="5" height="17" fill="#f2f2f2"/><rect x="292" y="299" width="3" height="15" fill="#6a6a6a"/><path d="M301.5 283 V318" stroke="#00ffff" stroke-width="1"/><rect x="299" y="303" width="5" height="13" fill="#00ffff"/><rect x="300" y="304" width="3" height="11" fill="#4169e1"/><path d="M309.5 268 V306" stroke="#00ffff" stroke-width="1"/><rect x="307" y="269" width="5" height="35" fill="#00ffff"/><rect x="308" y="270" width="3" height="33" fill="#4169e1"/><path d="M317.5 268 V295" stroke="#f2f2f2" stroke-width="1"/><rect x="315" y="269" width="5" height="24" fill="#f2f2f2"/><rect x="316" y="270" width="3" height="22" fill="#6a6a6a"/><path d="M325.5 285 V305" stroke="#f2f2f2" stroke-width="1"/><rect x="323" y="294" width="5" height="10" fill="#f2f2f2"/><rect x="324" y="295" width="3" height="8" fill="#6a6a6a"/><path d="M333.5 290 V312" stroke="#00ffff" stroke-width="1"/><rect x="331" y="295" width="5" height="9" fill="#00ffff"/><rect x="332" y="296" width="3" height="7" fill="#4169e1"/><path d="M341.5 295 V327" stroke="#f2f2f2" stroke-width="1"/><rect x="339" y="295" width="5" height="25" fill="#f2f2f2"/><rect x="340" y="296" width="3" height="23" fill="#6a6a6a"/><path d="M349.5 305 V333" stroke="#00ffff" stroke-width="1"/><rect x="347" y="307" width="5" height="15" fill="#00ffff"/><rect x="348" y="308" width="3" height="13" fill="#4169e1"/><path d="M357.5 308 V327" stroke="#f2f2f2" stroke-width="1"/><rect x="355" y="308" width="5" height="9" fill="#f2f2f2"/><rect x="356" y="309" width="3" height="7" fill="#6a6a6a"/><path d="M365.5 295 V317" stroke="#00ffff" stroke-width="1"/><rect x="363" y="300" width="5" height="17" fill="#00ffff"/><rect x="364" y="301" width="3" height="15" fill="#4169e1"/><path d="M373.5 297 V314" stroke="#f2f2f2" stroke-width="1"/><rect x="371" y="299" width="5" height="10" fill="#f2f2f2"/><rect x="372" y="300" width="3" height="8" fill="#6a6a6a"/><path d="M381.5 299 V322" stroke="#f2f2f2" stroke-width="1"/><rect x="379" y="306" width="5" height="13" fill="#f2f2f2"/><rect x="380" y="307" width="3" height="11" fill="#6a6a6a"/><path d="M389.5 300 V318" stroke="#00ffff" stroke-width="1"/><rect x="387" y="313" width="5" height="5" fill="#00ffff"/><rect x="388" y="314" width="3" height="3" fill="#4169e1"/><path d="M397.5 313 V325" stroke="#f2f2f2" stroke-width="1"/><rect x="395" y="314" width="5" height="10" fill="#f2f2f2"/><rect x="396" y="315" width="3" height="8" fill="#6a6a6a"/><path d="M405.5 316 V333" stroke="#00ffff" stroke-width="1"/><rect x="403" y="320" width="5" height="1" fill="#00ffff"/><path d="M413.5 295 V326" stroke="#00ffff" stroke-width="1"/><rect x="411" y="298" width="5" height="23" fill="#00ffff"/><rect x="412" y="299" width="3" height="21" fill="#4169e1"/><path d="M421.5 293 V322" stroke="#f2f2f2" stroke-width="1"/><rect x="419" y="296" width="5" height="13" fill="#f2f2f2"/><rect x="420" y="297" width="3" height="11" fill="#6a6a6a"/><path d="M429.5 285 V309" stroke="#00ffff" stroke-width="1"/><rect x="427" y="294" width="5" height="13" fill="#00ffff"/><rect x="428" y="295" width="3" height="11" fill="#4169e1"/><path d="M437.5 290 V317" stroke="#f2f2f2" stroke-width="1"/><rect x="435" y="294" width="5" height="15" fill="#f2f2f2"/><rect x="436" y="295" width="3" height="13" fill="#6a6a6a"/><path d="M445.5 293 V311" stroke="#00ffff" stroke-width="1"/><rect x="443" y="298" width="5" height="11" fill="#00ffff"/><rect x="444" y="299" width="3" height="9" fill="#4169e1"/><path d="M453.5 285 V301" stroke="#00ffff" stroke-width="1"/><rect x="451" y="290" width="5" height="10" fill="#00ffff"/><rect x="452" y="291" width="3" height="8" fill="#4169e1"/><path d="M461.5 286 V303" stroke="#f2f2f2" stroke-width="1"/><rect x="459" y="290" width="5" height="7" fill="#f2f2f2"/><rect x="460" y="291" width="3" height="5" fill="#6a6a6a"/><path d="M469.5 296 V322" stroke="#f2f2f2" stroke-width="1"/><rect x="467" y="296" width="5" height="21" fill="#f2f2f2"/><rect x="468" y="297" width="3" height="19" fill="#6a6a6a"/><path d="M477.5 301 V316" stroke="#00ffff" stroke-width="1"/><rect x="475" y="301" width="5" height="15" fill="#00ffff"/><rect x="476" y="302" width="3" height="13" fill="#4169e1"/><path d="M485.5 295 V322" stroke="#f2f2f2" stroke-width="1"/><rect x="483" y="300" width="5" height="15" fill="#f2f2f2"/><rect x="484" y="301" width="3" height="13" fill="#6a6a6a"/><path d="M493.5 310 V337" stroke="#f2f2f2" stroke-width="1"/><rect x="491" y="313" width="5" height="16" fill="#f2f2f2"/><rect x="492" y="314" width="3" height="14" fill="#6a6a6a"/><path d="M501.5 319 V355" stroke="#f2f2f2" stroke-width="1"/><rect x="499" y="327" width="5" height="27" fill="#f2f2f2"/><rect x="500" y="328" width="3" height="25" fill="#6a6a6a"/><path d="M509.5 332 V357" stroke="#00ffff" stroke-width="1"/><rect x="507" y="344" width="5" height="11" fill="#00ffff"/><rect x="508" y="345" width="3" height="9" fill="#4169e1"/><path d="M517.5 314 V345" stroke="#00ffff" stroke-width="1"/><rect x="515" y="322" width="5" height="23" fill="#00ffff"/><rect x="516" y="323" width="3" height="21" fill="#4169e1"/><path d="M525.5 313 V325" stroke="#00ffff" stroke-width="1"/><rect x="523" y="319" width="5" height="5" fill="#00ffff"/><rect x="524" y="320" width="3" height="3" fill="#4169e1"/><path d="M533.5 313 V331" stroke="#00ffff" stroke-width="1"/><rect x="531" y="318" width="5" height="2" fill="#00ffff"/><path d="M541.5 311 V333" stroke="#f2f2f2" stroke-width="1"/><rect x="539" y="318" width="5" height="8" fill="#f2f2f2"/><rect x="540" y="319" width="3" height="6" fill="#6a6a6a"/><path d="M549.5 288 V331" stroke="#00ffff" stroke-width="1"/><rect x="547" y="288" width="5" height="40" fill="#00ffff"/><rect x="548" y="289" width="3" height="38" fill="#4169e1"/><path d="M557.5 274 V300" stroke="#00ffff" stroke-width="1"/><rect x="555" y="280" width="5" height="9" fill="#00ffff"/><rect x="556" y="281" width="3" height="7" fill="#4169e1"/><path d="M565.5 280 V311" stroke="#f2f2f2" stroke-width="1"/><rect x="563" y="280" width="5" height="25" fill="#f2f2f2"/><rect x="564" y="281" width="3" height="23" fill="#6a6a6a"/><path d="M573.5 270 V316" stroke="#00ffff" stroke-width="1"/><rect x="571" y="275" width="5" height="30" fill="#00ffff"/><rect x="572" y="276" width="3" height="28" fill="#4169e1"/><path d="M581.5 273 V317" stroke="#f2f2f2" stroke-width="1"/><rect x="579" y="277" width="5" height="12" fill="#f2f2f2"/><rect x="580" y="278" width="3" height="10" fill="#6a6a6a"/><path d="M589.5 281 V312" stroke="#f2f2f2" stroke-width="1"/><rect x="587" y="287" width="5" height="9" fill="#f2f2f2"/><rect x="588" y="288" width="3" height="7" fill="#6a6a6a"/><path d="M597.5 280 V324" stroke="#00ffff" stroke-width="1"/><rect x="595" y="285" width="5" height="10" fill="#00ffff"/><rect x="596" y="286" width="3" height="8" fill="#4169e1"/><path d="M605.5 276 V321" stroke="#f2f2f2" stroke-width="1"/><rect x="603" y="282" width="5" height="21" fill="#f2f2f2"/><rect x="604" y="283" width="3" height="19" fill="#6a6a6a"/><path d="M613.5 301 V358" stroke="#f2f2f2" stroke-width="1"/><rect x="611" y="301" width="5" height="25" fill="#f2f2f2"/><rect x="612" y="302" width="3" height="23" fill="#6a6a6a"/><path d="M621.5 318 V382" stroke="#f2f2f2" stroke-width="1"/><rect x="619" y="323" width="5" height="35" fill="#f2f2f2"/><rect x="620" y="324" width="3" height="33" fill="#6a6a6a"/><path d="M629.5 341 V375" stroke="#00ffff" stroke-width="1"/><rect x="627" y="354" width="5" height="6" fill="#00ffff"/><rect x="628" y="355" width="3" height="4" fill="#4169e1"/><path d="M637.5 334 V376" stroke="#00ffff" stroke-width="1"/><rect x="635" y="337" width="5" height="18" fill="#00ffff"/><rect x="636" y="338" width="3" height="16" fill="#4169e1"/><path d="M645.5 327 V353" stroke="#f2f2f2" stroke-width="1"/><rect x="643" y="336" width="5" height="7" fill="#f2f2f2"/><rect x="644" y="337" width="3" height="5" fill="#6a6a6a"/><path d="M653.5 312 V345" stroke="#00ffff" stroke-width="1"/><rect x="651" y="329" width="5" height="15" fill="#00ffff"/><rect x="652" y="330" width="3" height="13" fill="#4169e1"/><path d="M661.5 317 V334" stroke="#f2f2f2" stroke-width="1"/><rect x="659" y="329" width="5" height="4" fill="#f2f2f2"/><rect x="660" y="330" width="3" height="2" fill="#6a6a6a"/><path d="M669.5 325 V365" stroke="#f2f2f2" stroke-width="1"/><rect x="667" y="329" width="5" height="34" fill="#f2f2f2"/><rect x="668" y="330" width="3" height="32" fill="#6a6a6a"/><path d="M677.5 353 V391" stroke="#00ffff" stroke-width="1"/><rect x="675" y="364" width="5" height="1" fill="#00ffff"/><path d="M685.5 363 V439" stroke="#f2f2f2" stroke-width="1"/><rect x="683" y="363" width="5" height="51" fill="#f2f2f2"/><rect x="684" y="364" width="3" height="49" fill="#6a6a6a"/><path d="M693.5 397 V427" stroke="#f2f2f2" stroke-width="1"/><rect x="691" y="413" width="5" height="4" fill="#f2f2f2"/><rect x="692" y="414" width="3" height="2" fill="#6a6a6a"/><path d="M701.5 392 V430" stroke="#f2f2f2" stroke-width="1"/><rect x="699" y="417" width="5" height="4" fill="#f2f2f2"/><rect x="700" y="418" width="3" height="2" fill="#6a6a6a"/><path d="M709.5 395 V438" stroke="#00ffff" stroke-width="1"/><rect x="707" y="402" width="5" height="19" fill="#00ffff"/><rect x="708" y="403" width="3" height="17" fill="#4169e1"/><path d="M717.5 298 V409" stroke="#00ffff" stroke-width="1"/><rect x="715" y="335" width="5" height="68" fill="#00ffff"/><rect x="716" y="336" width="3" height="66" fill="#4169e1"/><path d="M725.5 315 V387" stroke="#f2f2f2" stroke-width="1"/><rect x="723" y="335" width="5" height="31" fill="#f2f2f2"/><rect x="724" y="336" width="3" height="29" fill="#6a6a6a"/><path d="M733.5 284 V369" stroke="#00ffff" stroke-width="1"/><rect x="731" y="291" width="5" height="75" fill="#00ffff"/><rect x="732" y="292" width="3" height="73" fill="#4169e1"/><path d="M741.5 280 V319" stroke="#f2f2f2" stroke-width="1"/><rect x="739" y="290" width="5" height="4" fill="#f2f2f2"/><rect x="740" y="291" width="3" height="2" fill="#6a6a6a"/><path d="M749.5 248 V293" stroke="#00ffff" stroke-width="1"/><rect x="747" y="272" width="5" height="19" fill="#00ffff"/><rect x="748" y="273" width="3" height="17" fill="#4169e1"/><path d="M757.5 269 V324" stroke="#f2f2f2" stroke-width="1"/><rect x="755" y="270" width="5" height="31" fill="#f2f2f2"/><rect x="756" y="271" width="3" height="29" fill="#6a6a6a"/><path d="M765.5 300 V370" stroke="#f2f2f2" stroke-width="1"/><rect x="763" y="302" width="5" height="39" fill="#f2f2f2"/><rect x="764" y="303" width="3" height="37" fill="#6a6a6a"/><path d="M773.5 328 V400" stroke="#f2f2f2" stroke-width="1"/><rect x="771" y="344" width="5" height="54" fill="#f2f2f2"/><rect x="772" y="345" width="3" height="52" fill="#6a6a6a"/><path d="M781.5 363 V433" stroke="#00ffff" stroke-width="1"/><rect x="779" y="385" width="5" height="14" fill="#00ffff"/><rect x="780" y="386" width="3" height="12" fill="#4169e1"/><path d="M789.5 351 V389" stroke="#00ffff" stroke-width="1"/><rect x="787" y="358" width="5" height="29" fill="#00ffff"/><rect x="788" y="359" width="3" height="27" fill="#4169e1"/><path d="M797.5 295 V367" stroke="#00ffff" stroke-width="1"/><rect x="795" y="298" width="5" height="61" fill="#00ffff"/><rect x="796" y="299" width="3" height="59" fill="#4169e1"/><path d="M805.5 265 V310" stroke="#00ffff" stroke-width="1"/><rect x="803" y="286" width="5" height="13" fill="#00ffff"/><rect x="804" y="287" width="3" height="11" fill="#4169e1"/><path d="M813.5 283 V320" stroke="#f2f2f2" stroke-width="1"/><rect x="811" y="286" width="5" height="20" fill="#f2f2f2"/><rect x="812" y="287" width="3" height="18" fill="#6a6a6a"/><path d="M821.5 267 V307" stroke="#00ffff" stroke-width="1"/><rect x="819" y="293" width="5" height="13" fill="#00ffff"/><rect x="820" y="294" width="3" height="11" fill="#4169e1"/><path d="M829.5 285 V317" stroke="#f2f2f2" stroke-width="1"/><rect x="827" y="295" width="5" height="4" fill="#f2f2f2"/><rect x="828" y="296" width="3" height="2" fill="#6a6a6a"/><path d="M837.5 300 V356" stroke="#f2f2f2" stroke-width="1"/><rect x="835" y="300" width="5" height="24" fill="#f2f2f2"/><rect x="836" y="301" width="3" height="22" fill="#6a6a6a"/><path d="M845.5 310 V342" stroke="#00ffff" stroke-width="1"/><rect x="843" y="319" width="5" height="6" fill="#00ffff"/><rect x="844" y="320" width="3" height="4" fill="#4169e1"/><path d="M853.5 196 V319" stroke="#00ffff" stroke-width="1"/><rect x="851" y="231" width="5" height="88" fill="#00ffff"/><rect x="852" y="232" width="3" height="86" fill="#4169e1"/><path d="M861.5 191 V253" stroke="#00ffff" stroke-width="1"/><rect x="859" y="194" width="5" height="31" fill="#00ffff"/><rect x="860" y="195" width="3" height="29" fill="#4169e1"/><path d="M869.5 182 V235" stroke="#f2f2f2" stroke-width="1"/><rect x="867" y="193" width="5" height="17" fill="#f2f2f2"/><rect x="868" y="194" width="3" height="15" fill="#6a6a6a"/><path d="M877.5 159 V221" stroke="#00ffff" stroke-width="1"/><rect x="875" y="178" width="5" height="33" fill="#00ffff"/><rect x="876" y="179" width="3" height="31" fill="#4169e1"/><path d="M885.5 165 V240" stroke="#f2f2f2" stroke-width="1"/><rect x="883" y="176" width="5" height="45" fill="#f2f2f2"/><rect x="884" y="177" width="3" height="43" fill="#6a6a6a"/><path d="M893.5 202 V253" stroke="#f2f2f2" stroke-width="1"/><rect x="891" y="220" width="5" height="1" fill="#f2f2f2"/><path d="M901.5 211 V240" stroke="#f2f2f2" stroke-width="1"/><rect x="899" y="220" width="5" height="1" fill="#f2f2f2"/><path d="M909.5 196 V224" stroke="#00ffff" stroke-width="1"/><rect x="907" y="211" width="5" height="12" fill="#00ffff"/><rect x="908" y="212" width="3" height="10" fill="#4169e1"/><path d="M917.5 180 V215" stroke="#00ffff" stroke-width="1"/><rect x="915" y="180" width="5" height="33" fill="#00ffff"/><rect x="916" y="181" width="3" height="31" fill="#4169e1"/><path d="M925.5 160 V195" stroke="#00ffff" stroke-width="1"/><rect x="923" y="171" width="5" height="12" fill="#00ffff"/><rect x="924" y="172" width="3" height="10" fill="#4169e1"/><path d="M933.5 150 V199" stroke="#f2f2f2" stroke-width="1"/><rect x="931" y="170" width="5" height="13" fill="#f2f2f2"/><rect x="932" y="171" width="3" height="11" fill="#6a6a6a"/><path d="M941.5 175 V218" stroke="#f2f2f2" stroke-width="1"/><rect x="939" y="182" width="5" height="30" fill="#f2f2f2"/><rect x="940" y="183" width="3" height="28" fill="#6a6a6a"/><path d="M949.5 194 V213" stroke="#f2f2f2" stroke-width="1"/><rect x="947" y="210" width="5" height="3" fill="#f2f2f2"/><rect x="948" y="211" width="3" height="1" fill="#6a6a6a"/></g><path d="M952 211.5 H966" stroke="#e04020" stroke-width="1"/><path d="M706 438.5 H711" stroke="#e0b020" stroke-width="1"/><path d="M219 224 l4 4 M223 224 l-4 4 M931 149 l4 4 M935 149 l-4 4" stroke="#d8d820" stroke-width="1"/><path d="M955 54 h8 l-4 3z" fill="#0000ff"/><defs><clipPath id="sc"><rect x="5" y="650" width="1839" height="295"/></clipPath></defs><path d="M5 721.5 H1844" stroke="#c0c0c0" stroke-width="1" stroke-dasharray="3 3" stroke-dashoffset="5"/><path d="M5 744.5 H1844" stroke="#c0c0c0" stroke-width="1" stroke-dasharray="3 3" stroke-dashoffset="5"/><path d="M5 804.5 H1844" stroke="#c0c0c0" stroke-width="1" stroke-dasharray="3 3" stroke-dashoffset="5"/><path d="M5 863.5 H1844" stroke="#c0c0c0" stroke-width="1" stroke-dasharray="3 3" stroke-dashoffset="5"/><path d="M5 887.5 H1844" stroke="#c0c0c0" stroke-width="1" stroke-dasharray="3 3" stroke-dashoffset="5"/><polyline points="5.5,720.5 13.5,726.5 21.5,737.5 29.5,749.5 37.5,764.5 45.5,781.5 53.5,800.5 61.5,818.5 69.5,833.5 77.5,829.5 85.5,808.5 93.5,780.5 101.5,758.5 109.5,741.5 117.5,725.5 125.5,715.5 133.5,712.5 141.5,713.5 149.5,720.5 157.5,726.5 165.5,732.5 173.5,732.5 181.5,733.5 189.5,725.5 197.5,717.5 205.5,711.5 213.5,708.5 221.5,707.5 229.5,708.5 237.5,712.5 245.5,720.5 253.5,733.5 261.5,749.5 269.5,769.5 277.5,791.5 285.5,813.5 293.5,830.5 301.5,834.5 309.5,821.5 317.5,799.5 325.5,783.5 333.5,774.5 341.5,773.5 349.5,773.5 357.5,782.5 365.5,797.5 373.5,812.5 381.5,821.5 389.5,826.5 397.5,826.5 405.5,825.5 413.5,816.5 421.5,803.5 429.5,792.5 437.5,783.5 445.5,778.5 453.5,769.5 461.5,758.5 469.5,757.5 477.5,762.5 485.5,774.5 493.5,789.5 501.5,805.5 509.5,823.5 517.5,839.5 525.5,846.5 533.5,839.5 541.5,825.5 549.5,803.5 557.5,776.5 565.5,756.5 573.5,742.5 581.5,734.5 589.5,732.5 597.5,733.5 605.5,738.5 613.5,750.5 621.5,763.5 629.5,778.5 637.5,795.5 645.5,810.5 653.5,821.5 661.5,826.5 669.5,828.5 677.5,825.5 685.5,823.5 693.5,826.5 701.5,829.5 709.5,838.5 717.5,841.5 725.5,838.5 733.5,820.5 741.5,794.5 749.5,769.5 757.5,751.5 765.5,741.5 773.5,741.5 781.5,748.5 789.5,760.5 797.5,775.5 805.5,784.5 813.5,786.5 821.5,779.5 829.5,765.5 837.5,752.5 845.5,746.5 853.5,743.5 861.5,739.5 869.5,736.5 877.5,732.5 885.5,731.5 893.5,731.5 901.5,731.5 909.5,731.5 917.5,735.5 925.5,742.5 933.5,749.5 941.5,757.5 949.5,763.5" fill="none" stroke="#ff4500" stroke-width="1" stroke-dasharray="3 3" clip-path="url(#sc)"/><polyline points="5.5,727.5 13.5,735.5 21.5,760.5 29.5,788.5 37.5,811.5 45.5,829.5 53.5,842.5 61.5,851.5 69.5,855.5 77.5,854.5 85.5,841.5 93.5,816.5 101.5,795.5 109.5,774.5 117.5,754.5 125.5,734.5 133.5,723.5 141.5,727.5 149.5,738.5 157.5,744.5 165.5,747.5 173.5,747.5 181.5,747.5 189.5,743.5 197.5,734.5 205.5,723.5 213.5,717.5 221.5,714.5 229.5,716.5 237.5,724.5 245.5,738.5 253.5,760.5 261.5,787.5 269.5,815.5 277.5,835.5 285.5,850.5 293.5,857.5 301.5,858.5 309.5,854.5 317.5,839.5 325.5,819.5 333.5,802.5 341.5,797.5 349.5,799.5 357.5,814.5 365.5,827.5 373.5,834.5 381.5,836.5 389.5,837.5 397.5,838.5 405.5,836.5 413.5,825.5 421.5,818.5 429.5,814.5 437.5,808.5 445.5,802.5 453.5,790.5 461.5,773.5 469.5,769.5 477.5,780.5 485.5,800.5 493.5,820.5 501.5,842.5 509.5,862.5 517.5,868.5 525.5,869.5 533.5,868.5 541.5,860.5 549.5,845.5 557.5,819.5 565.5,790.5 573.5,765.5 581.5,750.5 589.5,744.5 597.5,744.5 605.5,754.5 613.5,769.5 621.5,788.5 629.5,808.5 637.5,825.5 645.5,836.5 653.5,841.5 661.5,842.5 669.5,842.5 677.5,839.5 685.5,838.5 693.5,843.5 701.5,851.5 709.5,859.5 717.5,861.5 725.5,861.5 733.5,854.5 741.5,837.5 749.5,816.5 757.5,791.5 765.5,769.5 773.5,770.5 781.5,786.5 789.5,805.5 797.5,816.5 805.5,820.5 813.5,820.5 821.5,817.5 829.5,805.5 837.5,787.5 845.5,766.5 853.5,756.5 861.5,752.5 869.5,751.5 877.5,749.5 885.5,749.5 893.5,748.5 901.5,748.5 909.5,749.5 917.5,754.5 925.5,759.5 933.5,762.5 941.5,768.5 949.5,778.5" fill="none" stroke="#ff4500" stroke-width="1" stroke-dasharray="3 3" clip-path="url(#sc)"/><polyline points="5.5,717.5 13.5,721.5 21.5,726.5 29.5,729.5 37.5,740.5 45.5,757.5 53.5,778.5 61.5,801.5 69.5,823.5 77.5,816.5 85.5,791.5 93.5,760.5 101.5,738.5 109.5,722.5 117.5,710.5 125.5,705.5 133.5,706.5 141.5,706.5 149.5,711.5 157.5,718.5 165.5,724.5 173.5,725.5 181.5,725.5 189.5,715.5 197.5,708.5 205.5,705.5 213.5,704.5 221.5,704.5 229.5,704.5 237.5,706.5 245.5,712.5 253.5,720.5 261.5,730.5 269.5,747.5 277.5,768.5 285.5,794.5 293.5,816.5 301.5,822.5 309.5,804.5 317.5,779.5 325.5,765.5 333.5,760.5 341.5,761.5 349.5,760.5 357.5,766.5 365.5,782.5 373.5,800.5 381.5,813.5 389.5,820.5 397.5,820.5 405.5,819.5 413.5,812.5 421.5,796.5 429.5,780.5 437.5,771.5 445.5,765.5 453.5,758.5 461.5,751.5 469.5,752.5 477.5,753.5 485.5,761.5 493.5,771.5 501.5,783.5 509.5,802.5 517.5,824.5 525.5,835.5 533.5,823.5 541.5,806.5 549.5,781.5 557.5,754.5 565.5,738.5 573.5,729.5 581.5,726.5 589.5,726.5 597.5,727.5 605.5,730.5 613.5,740.5 621.5,749.5 629.5,763.5 637.5,779.5 645.5,796.5 653.5,810.5 661.5,817.5 669.5,820.5 677.5,818.5 685.5,816.5 693.5,818.5 701.5,819.5 709.5,827.5 717.5,831.5 725.5,827.5 733.5,802.5 741.5,773.5 749.5,747.5 757.5,731.5 765.5,727.5 773.5,727.5 781.5,728.5 789.5,738.5 797.5,754.5 805.5,766.5 813.5,768.5 821.5,759.5 829.5,746.5 837.5,736.5 845.5,736.5 853.5,736.5 861.5,734.5 869.5,729.5 877.5,724.5 885.5,723.5 893.5,723.5 901.5,723.5 909.5,723.5 917.5,726.5 925.5,733.5 933.5,743.5 941.5,751.5 949.5,756.5" fill="none" stroke="#ff4500" stroke-width="1" stroke-dasharray="3 3" clip-path="url(#sc)"/><polyline points="5.5,730.5 13.5,740.5 21.5,771.5 29.5,808.5 37.5,836.5 45.5,853.5 53.5,863.5 61.5,866.5 69.5,866.5 77.5,865.5 85.5,856.5 93.5,834.5 101.5,812.5 109.5,790.5 117.5,767.5 125.5,744.5 133.5,728.5 141.5,735.5 149.5,748.5 157.5,752.5 165.5,754.5 173.5,754.5 181.5,754.5 189.5,752.5 197.5,743.5 205.5,730.5 213.5,721.5 221.5,717.5 229.5,720.5 237.5,730.5 245.5,748.5 253.5,773.5 261.5,806.5 269.5,837.5 277.5,858.5 285.5,869.5 293.5,870.5 301.5,871.5 309.5,871.5 317.5,859.5 325.5,838.5 333.5,816.5 341.5,809.5 349.5,812.5 357.5,830.5 365.5,840.5 373.5,845.5 381.5,843.5 389.5,843.5 397.5,843.5 405.5,842.5 413.5,831.5 421.5,826.5 429.5,824.5 437.5,819.5 445.5,813.5 453.5,800.5 461.5,780.5 469.5,775.5 477.5,789.5 485.5,812.5 493.5,833.5 501.5,858.5 509.5,878.5 517.5,882.5 525.5,880.5 533.5,881.5 541.5,876.5 549.5,866.5 557.5,841.5 565.5,807.5 573.5,775.5 581.5,757.5 589.5,750.5 597.5,750.5 605.5,761.5 613.5,779.5 621.5,799.5 629.5,822.5 637.5,840.5 645.5,849.5 653.5,850.5 661.5,849.5 669.5,849.5 677.5,846.5 685.5,847.5 693.5,853.5 701.5,862.5 709.5,870.5 717.5,871.5 725.5,871.5 733.5,871.5 741.5,859.5 749.5,840.5 757.5,811.5 765.5,784.5 773.5,784.5 781.5,805.5 789.5,827.5 797.5,836.5 805.5,837.5 813.5,837.5 821.5,836.5 829.5,825.5 837.5,804.5 845.5,777.5 853.5,763.5 861.5,759.5 869.5,758.5 877.5,758.5 885.5,758.5 893.5,757.5 901.5,756.5 909.5,757.5 917.5,764.5 925.5,768.5 933.5,769.5 941.5,773.5 949.5,785.5" fill="none" stroke="#ff4500" stroke-width="1" stroke-dasharray="3 3" clip-path="url(#sc)"/><polyline points="5.5,713.5 13.5,717.5 21.5,714.5 29.5,709.5 37.5,717.5 45.5,733.5 53.5,757.5 61.5,784.5 69.5,812.5 77.5,804.5 85.5,774.5 93.5,741.5 101.5,718.5 109.5,704.5 117.5,695.5 125.5,695.5 133.5,700.5 141.5,699.5 149.5,702.5 157.5,709.5 165.5,717.5 173.5,718.5 181.5,718.5 189.5,706.5 197.5,700.5 205.5,699.5 213.5,700.5 221.5,701.5 229.5,701.5 237.5,700.5 245.5,703.5 253.5,706.5 261.5,711.5 269.5,724.5 277.5,746.5 285.5,775.5 293.5,802.5 301.5,810.5 309.5,787.5 317.5,759.5 325.5,746.5 333.5,746.5 341.5,748.5 349.5,748.5 357.5,749.5 365.5,766.5 373.5,788.5 381.5,805.5 389.5,814.5 397.5,814.5 405.5,814.5 413.5,808.5 421.5,789.5 429.5,769.5 437.5,758.5 445.5,752.5 453.5,748.5 461.5,744.5 469.5,746.5 477.5,744.5 485.5,748.5 493.5,754.5 501.5,762.5 509.5,780.5 517.5,810.5 525.5,824.5 533.5,808.5 541.5,787.5 549.5,760.5 557.5,732.5 565.5,720.5 573.5,717.5 581.5,718.5 589.5,720.5 597.5,721.5 605.5,722.5 613.5,731.5 621.5,736.5 629.5,748.5 637.5,763.5 645.5,782.5 653.5,799.5 661.5,808.5 669.5,813.5 677.5,811.5 685.5,810.5 693.5,810.5 701.5,809.5 709.5,817.5 717.5,822.5 725.5,815.5 733.5,783.5 741.5,751.5 749.5,724.5 757.5,710.5 765.5,712.5 773.5,712.5 781.5,709.5 789.5,715.5 797.5,733.5 805.5,748.5 813.5,751.5 821.5,740.5 829.5,726.5 837.5,719.5 845.5,725.5 853.5,730.5 861.5,728.5 869.5,721.5 877.5,715.5 885.5,714.5 893.5,714.5 901.5,714.5 909.5,714.5 917.5,716.5 925.5,725.5 933.5,737.5 941.5,746.5 949.5,749.5" fill="none" stroke="#ff4500" stroke-width="1" stroke-dasharray="3 3" clip-path="url(#sc)"/><polyline points="5.5,734.5 13.5,744.5 21.5,783.5 29.5,828.5 37.5,860.5 45.5,876.5 53.5,884.5 61.5,882.5 69.5,877.5 77.5,877.5 85.5,872.5 93.5,851.5 101.5,830.5 109.5,805.5 117.5,781.5 125.5,755.5 133.5,734.5 141.5,744.5 149.5,757.5 157.5,761.5 165.5,762.5 173.5,761.5 181.5,761.5 189.5,761.5 197.5,751.5 205.5,736.5 213.5,726.5 221.5,721.5 229.5,724.5 237.5,736.5 245.5,757.5 253.5,786.5 261.5,825.5 269.5,860.5 277.5,880.5 285.5,887.5 293.5,884.5 301.5,883.5 309.5,887.5 317.5,879.5 325.5,856.5 333.5,830.5 341.5,821.5 349.5,825.5 357.5,845.5 365.5,854.5 373.5,856.5 381.5,850.5 389.5,848.5 397.5,848.5 405.5,847.5 413.5,836.5 421.5,834.5 429.5,835.5 437.5,831.5 445.5,824.5 453.5,811.5 461.5,788.5 469.5,781.5 477.5,798.5 485.5,825.5 493.5,847.5 501.5,873.5 509.5,895.5 517.5,896.5 525.5,892.5 533.5,895.5 541.5,893.5 549.5,887.5 557.5,862.5 565.5,823.5 573.5,785.5 581.5,764.5 589.5,757.5 597.5,756.5 605.5,769.5 613.5,788.5 621.5,811.5 629.5,837.5 637.5,855.5 645.5,861.5 653.5,860.5 661.5,857.5 669.5,856.5 677.5,853.5 685.5,855.5 693.5,862.5 701.5,873.5 709.5,880.5 717.5,881.5 725.5,882.5 733.5,887.5 741.5,881.5 749.5,863.5 757.5,832.5 765.5,798.5 773.5,799.5 781.5,823.5 789.5,849.5 797.5,857.5 805.5,855.5 813.5,855.5 821.5,855.5 829.5,845.5 837.5,822.5 845.5,787.5 853.5,770.5 861.5,766.5 869.5,766.5 877.5,766.5 885.5,766.5 893.5,766.5 901.5,765.5 909.5,766.5 917.5,774.5 925.5,777.5 933.5,776.5 941.5,779.5 949.5,792.5" fill="none" stroke="#ff4500" stroke-width="1" stroke-dasharray="3 3" clip-path="url(#sc)"/><polyline points="5.5,708.5 13.5,710.5 21.5,697.5 29.5,680.5 37.5,682.5 45.5,696.5 53.5,724.5 61.5,759.5 69.5,797.5 77.5,785.5 85.5,748.5 93.5,712.5 101.5,688.5 109.5,676.5 117.5,673.5 125.5,680.5 133.5,692.5 141.5,690.5 149.5,689.5 157.5,696.5 165.5,705.5 173.5,707.5 181.5,707.5 189.5,692.5 197.5,688.5 205.5,691.5 213.5,694.5 221.5,696.5 229.5,695.5 237.5,691.5 245.5,690.5 253.5,686.5 261.5,683.5 269.5,690.5 277.5,712.5 285.5,747.5 293.5,782.5 301.5,792.5 309.5,761.5 317.5,729.5 325.5,719.5 333.5,725.5 341.5,730.5 349.5,728.5 357.5,725.5 365.5,742.5 373.5,770.5 381.5,793.5 389.5,805.5 397.5,805.5 405.5,805.5 413.5,802.5 421.5,778.5 429.5,753.5 437.5,739.5 445.5,733.5 453.5,732.5 461.5,734.5 469.5,737.5 477.5,731.5 485.5,728.5 493.5,727.5 501.5,729.5 509.5,748.5 517.5,787.5 525.5,807.5 533.5,785.5 541.5,759.5 549.5,728.5 557.5,699.5 565.5,692.5 573.5,698.5 581.5,706.5 589.5,710.5 597.5,712.5 605.5,709.5 613.5,716.5 621.5,715.5 629.5,725.5 637.5,739.5 645.5,761.5 653.5,784.5 661.5,795.5 669.5,802.5 677.5,801.5 685.5,800.5 693.5,797.5 701.5,794.5 709.5,801.5 717.5,807.5 725.5,798.5 733.5,756.5 741.5,719.5 749.5,690.5 757.5,680.5 765.5,691.5 773.5,691.5 781.5,679.5 789.5,682.5 797.5,701.5 805.5,721.5 813.5,725.5 821.5,711.5 829.5,697.5 837.5,695.5 845.5,710.5 853.5,720.5 861.5,719.5 869.5,711.5 877.5,702.5 885.5,702.5 893.5,702.5 901.5,702.5 909.5,702.5 917.5,702.5 925.5,713.5 933.5,728.5 941.5,738.5 949.5,739.5" fill="none" stroke="#ff4500" stroke-width="1" stroke-dasharray="3 3" clip-path="url(#sc)"/><polyline points="5.5,738.5 13.5,751.5 21.5,800.5 29.5,857.5 37.5,896.5 45.5,911.5 53.5,915.5 61.5,906.5 69.5,893.5 77.5,895.5 85.5,895.5 93.5,877.5 101.5,856.5 109.5,828.5 117.5,801.5 125.5,770.5 133.5,742.5 141.5,756.5 149.5,772.5 157.5,774.5 165.5,773.5 173.5,772.5 181.5,771.5 189.5,774.5 197.5,765.5 205.5,745.5 213.5,733.5 221.5,726.5 229.5,730.5 237.5,744.5 245.5,771.5 253.5,805.5 261.5,853.5 269.5,894.5 277.5,913.5 285.5,915.5 293.5,905.5 301.5,901.5 309.5,912.5 317.5,909.5 325.5,883.5 333.5,851.5 341.5,839.5 349.5,844.5 357.5,869.5 365.5,874.5 373.5,872.5 381.5,861.5 389.5,856.5 397.5,856.5 405.5,855.5 413.5,844.5 421.5,846.5 429.5,852.5 437.5,849.5 445.5,841.5 453.5,826.5 461.5,799.5 469.5,790.5 477.5,811.5 485.5,844.5 493.5,866.5 501.5,896.5 509.5,919.5 517.5,916.5 525.5,909.5 533.5,915.5 541.5,917.5 549.5,918.5 557.5,894.5 565.5,848.5 573.5,800.5 581.5,775.5 589.5,766.5 597.5,764.5 605.5,780.5 613.5,803.5 621.5,828.5 629.5,858.5 637.5,877.5 645.5,880.5 653.5,874.5 661.5,868.5 669.5,867.5 677.5,864.5 685.5,868.5 693.5,876.5 701.5,889.5 709.5,896.5 717.5,896.5 725.5,898.5 733.5,912.5 741.5,913.5 749.5,899.5 757.5,862.5 765.5,819.5 773.5,820.5 781.5,850.5 789.5,883.5 797.5,888.5 805.5,882.5 813.5,880.5 821.5,883.5 829.5,874.5 837.5,848.5 845.5,803.5 853.5,781.5 861.5,777.5 869.5,777.5 877.5,779.5 885.5,780.5 893.5,779.5 901.5,777.5 909.5,779.5 917.5,789.5 925.5,791.5 933.5,786.5 941.5,787.5 949.5,803.5" fill="none" stroke="#ff4500" stroke-width="1" stroke-dasharray="3 3" clip-path="url(#sc)"/><polyline points="5.5,706.5 13.5,708.5 21.5,691.5 29.5,670.5 37.5,670.5 45.5,684.5 53.5,713.5 61.5,750.5 69.5,792.5 77.5,778.5 85.5,739.5 93.5,702.5 101.5,678.5 109.5,667.5 117.5,665.5 125.5,676.5 133.5,689.5 141.5,686.5 149.5,685.5 157.5,692.5 165.5,701.5 173.5,704.5 181.5,704.5 189.5,688.5 197.5,683.5 205.5,688.5 213.5,692.5 221.5,694.5 229.5,694.5 237.5,688.5 245.5,686.5 253.5,679.5 261.5,674.5 269.5,678.5 277.5,700.5 285.5,738.5 293.5,775.5 301.5,786.5 309.5,753.5 317.5,719.5 325.5,710.5 333.5,719.5 341.5,724.5 349.5,722.5 357.5,716.5 365.5,734.5 373.5,765.5 381.5,789.5 389.5,802.5 397.5,802.5 405.5,803.5 413.5,801.5 421.5,774.5 429.5,747.5 437.5,733.5 445.5,726.5 453.5,726.5 461.5,730.5 469.5,734.5 477.5,726.5 485.5,722.5 493.5,718.5 501.5,718.5 509.5,737.5 517.5,780.5 525.5,801.5 533.5,777.5 541.5,749.5 549.5,717.5 557.5,688.5 565.5,683.5 573.5,692.5 581.5,702.5 589.5,707.5 597.5,709.5 605.5,705.5 613.5,711.5 621.5,709.5 629.5,718.5 637.5,731.5 645.5,754.5 653.5,778.5 661.5,791.5 669.5,798.5 677.5,797.5 685.5,796.5 693.5,793.5 701.5,789.5 709.5,795.5 717.5,802.5 725.5,792.5 733.5,747.5 741.5,708.5 749.5,679.5 757.5,670.5 765.5,684.5 773.5,684.5 781.5,669.5 789.5,670.5 797.5,691.5 805.5,712.5 813.5,717.5 821.5,701.5 829.5,687.5 837.5,686.5 845.5,705.5 853.5,717.5 861.5,716.5 869.5,707.5 877.5,698.5 885.5,698.5 893.5,698.5 901.5,698.5 909.5,698.5 917.5,697.5 925.5,709.5 933.5,725.5 941.5,735.5 949.5,735.5" fill="none" stroke="#ff4500" stroke-width="1" stroke-dasharray="3 3" clip-path="url(#sc)"/><polyline points="5.5,740.5 13.5,754.5 21.5,806.5 29.5,867.5 37.5,908.5 45.5,923.5 53.5,925.5 61.5,913.5 69.5,899.5 77.5,901.5 85.5,903.5 93.5,886.5 101.5,865.5 109.5,836.5 117.5,807.5 125.5,775.5 133.5,745.5 141.5,760.5 149.5,777.5 157.5,778.5 165.5,776.5 173.5,775.5 181.5,775.5 189.5,778.5 197.5,769.5 205.5,748.5 213.5,735.5 221.5,728.5 229.5,732.5 237.5,747.5 245.5,775.5 253.5,812.5 261.5,863.5 269.5,905.5 277.5,924.5 285.5,924.5 293.5,911.5 301.5,907.5 309.5,920.5 317.5,919.5 325.5,893.5 333.5,857.5 341.5,845.5 349.5,851.5 357.5,876.5 365.5,881.5 373.5,877.5 381.5,865.5 389.5,859.5 397.5,859.5 405.5,858.5 413.5,847.5 421.5,850.5 429.5,857.5 437.5,854.5 445.5,847.5 453.5,831.5 461.5,803.5 469.5,793.5 477.5,816.5 485.5,851.5 493.5,873.5 501.5,904.5 509.5,928.5 517.5,923.5 525.5,915.5 533.5,922.5 541.5,925.5 549.5,929.5 557.5,905.5 565.5,856.5 573.5,805.5 581.5,779.5 589.5,769.5 597.5,767.5 605.5,784.5 613.5,807.5 621.5,834.5 629.5,865.5 637.5,885.5 645.5,886.5 653.5,879.5 661.5,872.5 669.5,871.5 677.5,868.5 685.5,872.5 693.5,881.5 701.5,895.5 709.5,902.5 717.5,901.5 725.5,903.5 733.5,920.5 741.5,924.5 749.5,911.5 757.5,872.5 765.5,827.5 773.5,827.5 781.5,859.5 789.5,894.5 797.5,898.5 805.5,891.5 813.5,889.5 821.5,892.5 829.5,884.5 837.5,857.5 845.5,808.5 853.5,784.5 861.5,780.5 869.5,781.5 877.5,783.5 885.5,784.5 893.5,784.5 901.5,782.5 909.5,784.5 917.5,794.5 925.5,796.5 933.5,790.5 941.5,790.5 949.5,806.5" fill="none" stroke="#ff4500" stroke-width="1" stroke-dasharray="3 3" clip-path="url(#sc)"/><polyline points="5.5,710 13.5,712 21.5,703 29.5,689 37.5,694 45.5,709 53.5,735 61.5,767 69.5,802 77.5,791 85.5,756 93.5,722 101.5,698 109.5,685 117.5,680 125.5,685 133.5,695 141.5,693 149.5,694 157.5,701 165.5,709 173.5,711 181.5,711 189.5,697 197.5,692 205.5,694 213.5,696 221.5,697 229.5,697 237.5,694 245.5,695 253.5,693 261.5,692 269.5,701 277.5,723 285.5,756 293.5,789 301.5,798 309.5,770 317.5,739 325.5,728 333.5,732 341.5,736 349.5,735 357.5,733 365.5,750 373.5,776 381.5,797 389.5,808 397.5,808 405.5,808 413.5,804 421.5,782 429.5,758 437.5,745 445.5,739 453.5,737 461.5,737 469.5,740 477.5,735 485.5,735 493.5,736 501.5,740 509.5,759 517.5,795 525.5,813 533.5,792 541.5,768 549.5,739 557.5,710 565.5,702 573.5,704 581.5,710 589.5,714 597.5,715 605.5,713 613.5,721 621.5,722 629.5,733 637.5,747 645.5,768 653.5,789 661.5,799 669.5,806 677.5,804 685.5,803 693.5,802 701.5,799 709.5,806 717.5,812 725.5,804 733.5,765 741.5,730 749.5,702 757.5,690 765.5,698 773.5,698 781.5,689 789.5,693 797.5,712 805.5,730 813.5,734 821.5,721 829.5,707 837.5,703 845.5,715 853.5,724 861.5,722 869.5,714 877.5,707 885.5,706 893.5,706 901.5,706 909.5,706 917.5,707 925.5,717 933.5,731 941.5,740 949.5,742" fill="none" stroke="#1e90ff" stroke-width="2" clip-path="url(#sc)"/><polyline points="5.5,724 13.5,730 21.5,748 29.5,768 37.5,787 45.5,806 53.5,822 61.5,835 69.5,844 77.5,842 85.5,826 93.5,799 101.5,778 109.5,759 117.5,740 125.5,724 133.5,718 141.5,719 149.5,728 157.5,735 165.5,739 173.5,739 181.5,740 189.5,734 197.5,725 205.5,717 213.5,712 221.5,710 229.5,712 237.5,718 245.5,729 253.5,747 261.5,768 269.5,792 277.5,813 285.5,832 293.5,843 301.5,846 309.5,838 317.5,819 325.5,801 333.5,788 341.5,785 349.5,786 357.5,799 365.5,813 373.5,823 381.5,829 389.5,832 397.5,832 405.5,830 413.5,820 421.5,811 429.5,803 437.5,796 445.5,790 453.5,779 461.5,765 469.5,763 477.5,771 485.5,787 493.5,807 501.5,827 509.5,845 517.5,854 525.5,857 533.5,854 541.5,843 549.5,824 557.5,798 565.5,774 573.5,754 581.5,742 589.5,738 597.5,739 605.5,746 613.5,760 621.5,776 629.5,793 637.5,810 645.5,823 653.5,831 661.5,835 669.5,835 677.5,832 685.5,830 693.5,834 701.5,840 709.5,849 717.5,851 725.5,850 733.5,838 741.5,816 749.5,792 757.5,771 765.5,755 773.5,756 781.5,768 789.5,782 797.5,795 805.5,802 813.5,803 821.5,798 829.5,785 837.5,769 845.5,756 853.5,749 861.5,745 869.5,743 877.5,741 885.5,740 893.5,739 901.5,739 909.5,740 917.5,745 925.5,750 933.5,755 941.5,762 949.5,770" fill="none" stroke="#1e90ff" stroke-width="2" clip-path="url(#sc)"/><polyline points="5.5,737 13.5,749 21.5,794 29.5,848 37.5,884 45.5,899 53.5,904 61.5,898 69.5,888 77.5,889 85.5,887 93.5,869 101.5,847 109.5,821 117.5,794 125.5,765 133.5,739 141.5,752 149.5,767 157.5,770 165.5,769 173.5,768 181.5,768 189.5,770 197.5,760 205.5,742 213.5,730 221.5,724 229.5,728 237.5,742 245.5,766 253.5,799 261.5,844 269.5,883 277.5,902 285.5,905 293.5,898 301.5,895 309.5,903 317.5,899 325.5,874 333.5,844 341.5,833 349.5,838 357.5,861 365.5,868 373.5,867 381.5,858 389.5,854 397.5,854 405.5,853 413.5,842 421.5,842 429.5,846 437.5,843 445.5,836 453.5,821 461.5,795 469.5,787 477.5,807 485.5,838 493.5,860 501.5,889 509.5,911 517.5,909 525.5,903 533.5,909 541.5,909 549.5,908 557.5,884 565.5,840 573.5,795 581.5,772 589.5,763 597.5,761 605.5,776 613.5,798 621.5,822 629.5,851 637.5,870 645.5,874 653.5,869 661.5,864 669.5,863 677.5,861 685.5,863 693.5,872 701.5,884 709.5,891 717.5,891 725.5,893 733.5,904 741.5,902 749.5,887 757.5,852 765.5,812 773.5,813 781.5,841 789.5,872 797.5,878 805.5,873 813.5,872 821.5,873 829.5,864 837.5,840 845.5,798 853.5,777 861.5,773 869.5,774 877.5,775 885.5,775 893.5,775 901.5,773 909.5,775 917.5,784 925.5,787 933.5,783 941.5,784 949.5,799" fill="none" stroke="#1e90ff" stroke-width="2" clip-path="url(#sc)"/><polyline points="5.5,725 13.5,744 21.5,813 29.5,878 37.5,883 45.5,863 53.5,834 61.5,825 69.5,817 77.5,788 85.5,740 93.5,703 101.5,711 109.5,703 117.5,711 125.5,713 133.5,738 141.5,756 149.5,772 157.5,746 165.5,731 173.5,717 181.5,715 189.5,693 197.5,707 205.5,711 213.5,715 221.5,717 229.5,728 237.5,746 245.5,771 253.5,802 261.5,862 269.5,887 277.5,886 285.5,862 293.5,832 301.5,797 309.5,751 317.5,742 325.5,754 333.5,788 341.5,829 349.5,839 357.5,860 365.5,834 373.5,823 381.5,814 389.5,814 397.5,835 405.5,834 413.5,800 421.5,771 429.5,741 437.5,771 445.5,765 453.5,759 461.5,744 469.5,784 477.5,815 485.5,854 493.5,862 501.5,899 509.5,894 517.5,858 525.5,813 533.5,782 541.5,772 549.5,737 557.5,710 565.5,724 573.5,732 581.5,748 589.5,747 597.5,762 605.5,783 613.5,809 621.5,850 629.5,859 637.5,854 645.5,838 653.5,820 661.5,807 669.5,809 677.5,825 685.5,860 693.5,872 701.5,884 709.5,874 717.5,825 725.5,803 733.5,746 741.5,729 749.5,707 757.5,724 765.5,758 773.5,816 781.5,864 789.5,861 797.5,807 805.5,764 813.5,736 821.5,728 829.5,734 837.5,748 845.5,772 853.5,773 861.5,735 869.5,716 877.5,710 885.5,732 893.5,743 901.5,764 909.5,780 917.5,776 925.5,755 933.5,740 941.5,769 949.5,810 950,809.653" fill="none" stroke="#ffff00" stroke-width="2" clip-path="url(#sc)"/><path d="M4.5 53 V648" stroke="#fff" stroke-width="1"/><path d="M4 53.5 H1845" stroke="#fff" stroke-width="1"/><path d="M4 647.5 H1845" stroke="#fff" stroke-width="1"/><path d="M4 649.5 H1845" stroke="#fff" stroke-width="1"/><path d="M4.5 649 V946" stroke="#fff" stroke-width="1"/><path d="M4 945.5 H1845" stroke="#fff" stroke-width="1"/><path d="M1844.5 53 V946" stroke="#fff" stroke-width="1"/><path d="M5.5 946 V949" stroke="#fff" stroke-width="1"/><path d="M69.5 946 V949" stroke="#fff" stroke-width="1"/><path d="M133.5 946 V949" stroke="#fff" stroke-width="1"/><path d="M197.5 946 V949" stroke="#fff" stroke-width="1"/><path d="M261.5 946 V949" stroke="#fff" stroke-width="1"/><path d="M325.5 946 V949" stroke="#fff" stroke-width="1"/><path d="M389.5 946 V949" stroke="#fff" stroke-width="1"/><path d="M453.5 946 V949" stroke="#fff" stroke-width="1"/><path d="M517.5 946 V949" stroke="#fff" stroke-width="1"/><path d="M581.5 946 V949" stroke="#fff" stroke-width="1"/><path d="M645.5 946 V949" stroke="#fff" stroke-width="1"/><path d="M709.5 946 V949" stroke="#fff" stroke-width="1"/><path d="M773.5 946 V949" stroke="#fff" stroke-width="1"/><path d="M837.5 946 V949" stroke="#fff" stroke-width="1"/><path d="M901.5 946 V949" stroke="#fff" stroke-width="1"/><path d="M1437.5 946 V949" stroke="#fff" stroke-width="1"/><path d="M1845 83.5 H1847" stroke="#fff" stroke-width="1"/><path d="M1845 116.5 H1847" stroke="#fff" stroke-width="1"/><path d="M1845 149.5 H1847" stroke="#fff" stroke-width="1"/><path d="M1845 182.5 H1847" stroke="#fff" stroke-width="1"/><path d="M1845 215.5 H1847" stroke="#fff" stroke-width="1"/><path d="M1845 248.5 H1847" stroke="#fff" stroke-width="1"/><path d="M1845 282.5 H1847" stroke="#fff" stroke-width="1"/><path d="M1845 315.5 H1847" stroke="#fff" stroke-width="1"/><path d="M1845 348.5 H1847" stroke="#fff" stroke-width="1"/><path d="M1845 381.5 H1847" stroke="#fff" stroke-width="1"/><path d="M1845 414.5 H1847" stroke="#fff" stroke-width="1"/><path d="M1845 447.5 H1847" stroke="#fff" stroke-width="1"/><path d="M1845 480.5 H1847" stroke="#fff" stroke-width="1"/><path d="M1845 513.5 H1847" stroke="#fff" stroke-width="1"/><path d="M1845 546.5 H1847" stroke="#fff" stroke-width="1"/><path d="M1845 579.5 H1847" stroke="#fff" stroke-width="1"/><path d="M1845 612.5 H1847" stroke="#fff" stroke-width="1"/><path d="M1845 645.5 H1847" stroke="#fff" stroke-width="1"/><path d="M1845 721.5 H1847" stroke="#fff" stroke-width="1"/><path d="M1845 744.5 H1847" stroke="#fff" stroke-width="1"/><path d="M1845 804.5 H1847" stroke="#fff" stroke-width="1"/><path d="M1845 863.5 H1847" stroke="#fff" stroke-width="1"/><path d="M1845 887.5 H1847" stroke="#fff" stroke-width="1"/><path d="M1845 922.5 H1847" stroke="#fff" stroke-width="1"/></svg>
<svg class="a" style="left:8px;top:58px" width="8" height="5"><path d="M0 0 H7 L3.5 4 Z" fill="#fff"/></svg>
<div class="t ct" style="left:20px;top:57px">XAUUSD,M5  4214.75 4216.52 4214.55 4214.55</div>
<div class="t ct" style="left:9px;top:654px">Stochastics-iBands 47.6943 75.9181 51.5563</div>
<div class="t" style="left:15.5px;top:140.7px;font-size:16px;color:#0000e0;letter-spacing:-0.15px">1</div>
<div class="t" style="left:54.5px;top:140.7px;font-size:16px;color:#0000e0;letter-spacing:-0.15px">0/0</div>
<div class="t" style="left:114.5px;top:140.7px;font-size:16px;color:#0000e0;letter-spacing:-0.15px">-----3-2</div>
<div class="t" style="left:175px;top:140.7px;font-size:16px;color:#0000e0;letter-spacing:-0.15px">Bearish .75*AB=CD [*/*]</div>
<div class="t" style="left:660.5px;top:288px;font-size:10.5px;letter-spacing:-0.1px;color:#d0d0d0">Week Open 4216.26</div>
<div class="t" style="left:997.5px;top:206px;font-size:11px;letter-spacing:-0.4px;color:#e0e0e0">12</div>
<div class="t" style="left:35px;top:616px;font-size:17.5px;font-weight:bold;color:#b0b0b0">SCALE</div>
<div class="t" style="left:1743px;top:614px;font-size:20px;color:#dfe6f2">18:56:13</div>
<div class="a" style="left:1759px;top:245px;width:80px;height:20px;background:#000;border-radius:2px"></div>
<div class="t" style="left:1772px;top:249.5px;font-family:'Liberation Mono',monospace;font-size:14.5px;color:#fff">3m 46s</div>
<div class="a" style="left:1704px;top:700px;width:115px;height:21px;box-sizing:border-box;background:#000;border:1px solid #b8b8b8"></div>
<div class="t" style="left:1706px;top:704px;font-family:'Liberation Mono',monospace;font-size:16px;color:#fff;letter-spacing:0.15px">&lt;--00:03:47</div>
<div class="t ct" style="left:4px;top:950px">9 Dec 2025</div>
<div class="t ct" style="left:68px;top:950px">9 Dec 09:45</div>
<div class="t ct" style="left:132px;top:950px">9 Dec 10:25</div>
<div class="t ct" style="left:196px;top:950px">9 Dec 11:05</div>
<div class="t ct" style="left:260px;top:950px">9 Dec 11:45</div>
<div class="t ct" style="left:324px;top:950px">9 Dec 12:25</div>
<div class="t ct" style="left:388px;top:950px">9 Dec 13:05</div>
<div class="t ct" style="left:452px;top:950px">9 Dec 13:45</div>
<div class="t ct" style="left:516px;top:950px">9 Dec 14:25</div>
<div class="t ct" style="left:580px;top:950px">9 Dec 15:05</div>
<div class="t ct" style="left:644px;top:950px">9 Dec 15:45</div>
<div class="t ct" style="left:708px;top:950px">9 Dec 16:25</div>
<div class="t ct" style="left:772px;top:950px">9 Dec 17:05</div>
<div class="t ct" style="left:836px;top:950px">9 Dec 17:45</div>
<div class="t ct" style="left:900px;top:950px">9 Dec 18:25</div>
<div class="t ct" style="left:1850px;top:78.7px">4228.90</div>
<div class="t ct" style="left:1850px;top:111.8px">4225.20</div>
<div class="t ct" style="left:1850px;top:144.8px">4221.60</div>
<div class="t ct" style="left:1850px;top:177.8px">4217.90</div>
<div class="t ct" style="left:1850px;top:210.9px">4214.20</div>
<div class="t ct" style="left:1850px;top:243.9px">4210.50</div>
<div class="t ct" style="left:1850px;top:277.0px">4206.80</div>
<div class="t ct" style="left:1850px;top:310.0px">4203.20</div>
<div class="t ct" style="left:1850px;top:343.1px">4199.50</div>
<div class="t ct" style="left:1850px;top:376.1px">4195.80</div>
<div class="t ct" style="left:1850px;top:409.2px">4192.10</div>
<div class="t ct" style="left:1850px;top:442.2px">4188.40</div>
<div class="t ct" style="left:1850px;top:475.3px">4184.80</div>
<div class="t ct" style="left:1850px;top:508.4px">4181.10</div>
<div class="t ct" style="left:1850px;top:541.4px">4177.40</div>
<div class="t ct" style="left:1850px;top:574.4px">4173.70</div>
<div class="t ct" style="left:1850px;top:607.5px">4170.10</div>
<div class="t ct" style="left:1850px;top:640.5px">4166.40</div>
<div class="t ct" style="left:1848px;top:651.5px">114.4988</div>
<div class="t ct" style="left:1848px;top:716.7px">85</div>
<div class="t ct" style="left:1848px;top:740.0px">75</div>
<div class="t ct" style="left:1848px;top:799.5px">50</div>
<div class="t ct" style="left:1848px;top:858.4px">25</div>
<div class="t ct" style="left:1848px;top:882.6px">15</div>
<div class="t ct" style="left:1848px;top:917.4px">0.00</div>
<div class="t ct" style="left:1848px;top:934.0px">-9.3537</div>
<div class="pl" style="top:108px;background:#ffff00;color:#000">4225.46</div>
<div class="pl" style="top:128px;background:#ffff00;color:#000">4223.32</div>
<div class="pl" style="top:161px;background:#ffff00;color:#000">4219.57</div>
<div class="pl" style="top:194px;background:#ff0000;color:#3a0000">4215.83</div>
<div class="pl" style="top:206px;background:#4a86c0;color:#001030">4214.67</div>
<div class="pl" style="top:228px;background:#00ff00;color:#000">4212.08</div>
<div class="pl" style="top:262px;background:#00ff00;color:#000">4208.34</div>
<div class="pl" style="top:281px;background:#00ff00;color:#000">4206.20</div>
<div class="a" style="left:1891px;top:50px;width:28px;height:937px;background:#f0f0f0"></div>
<div class="a" style="left:1891px;top:50px;width:1px;height:937px;background:#fff"></div>
<div class="a" style="left:1895px;top:53px;width:23px;height:3px;background:repeating-linear-gradient(to right,#a8a8a8 0,#a8a8a8 1px,transparent 1px,transparent 2px)"></div>
<div class="a" style="left:1893px;top:85px;width:25px;height:23px;box-sizing:border-box;background:#f8f8f8;border:1px solid #dcdcdc;border-top-color:#bdbdbd;border-left-color:#bdbdbd"></div>
<div class="tf" style="top:67.3px">M1</div>
<div class="tf" style="top:92.3px">M5</div>
<div class="tf" style="top:117.3px">M15</div>
<div class="tf" style="top:142.3px">M30</div>
<div class="tf" style="top:167.3px">H1</div>
<div class="tf" style="top:192.3px">H4</div>
<div class="tf" style="top:217.3px">D1</div>
<div class="tf" style="top:242.3px">W1</div>
<div class="tf" style="top:267.3px">MN</div>
<div class="a" style="left:1895px;top:287px;width:23px;height:3px;background:repeating-linear-gradient(to right,#a8a8a8 0,#a8a8a8 1px,transparent 1px,transparent 2px)"></div>
<div class="a" style="left:1893px;top:293px;width:25px;height:24px;box-sizing:border-box;background:#f8f8f8;border:1px solid #dcdcdc;border-top-color:#bdbdbd;border-left-color:#bdbdbd"></div>
<svg class="a" style="left:1901px;top:297px" width="10" height="16" viewBox="0 0 10 16" ><path d="M0.5 0.5 V13 L3.5 10 L6 15.5 L8 14.5 L5.5 9.5 H9.5 Z" fill="#222"/></svg>
<svg class="a" style="left:1897px;top:320px" width="17" height="17" viewBox="0 0 17 17" shape-rendering="crispEdges"><path d="M8.5 0 V6 M8.5 11 V17 M0 8.5 H6 M11 8.5 H17" stroke="#333" stroke-width="1"/></svg>
<div class="a" style="left:1892px;top:346px;width:27px;height:1px;background:#a8a8a8"></div>
<svg class="a" style="left:1897px;top:355px" width="17" height="17" viewBox="0 0 17 17" shape-rendering="crispEdges"><path d="M8.5 1 V16" stroke="#333" stroke-width="1"/></svg>
<svg class="a" style="left:1897px;top:380px" width="17" height="17" viewBox="0 0 17 17" shape-rendering="crispEdges"><path d="M2 8.5 H15" stroke="#333" stroke-width="1"/></svg>
<svg class="a" style="left:1897px;top:405px" width="17" height="17" viewBox="0 0 17 17" ><path d="M2 14 L15 3" stroke="#444" stroke-width="1.1"/></svg>
<svg class="a" style="left:1896px;top:429px" width="22" height="19" viewBox="0 0 22 19" ><path d="M1 12 L13 3 M1 16 L13 7 M4 7 v7 M7 5 v8 M10 3 v8" stroke="#555" stroke-width="1"/><text x="14" y="17" font-size="8" font-weight="bold" fill="#333" font-family="Liberation Sans">E</text></svg>
<svg class="a" style="left:1896px;top:454px" width="22" height="19" viewBox="0 0 22 19" ><path d="M2 2.5 H14 M2 6.5 H14 M2 10.5 H14 M2 14.5 H11" stroke="#555" stroke-width="1" stroke-dasharray="1 1"/><text x="14" y="18" font-size="8" font-weight="bold" fill="#333" font-family="Liberation Sans">F</text></svg>
<svg class="a" style="left:1896px;top:479px" width="22" height="19" viewBox="0 0 22 19" ><path d="M1 10 L12 1 M2 14 L14 4 M4 17 L15 8" stroke="#555" stroke-width="1"/><text x="14" y="18" font-size="8" font-weight="bold" fill="#333" font-family="Liberation Sans">F</text></svg>
<svg class="a" style="left:1896px;top:504px" width="22" height="19" viewBox="0 0 22 19" ><path d="M1 15 L14 2 M1 15 L14 6 M1 15 L12 11 M1 15 L8 4" stroke="#555" stroke-width="0.9"/><text x="14" y="18" font-size="8" font-weight="bold" fill="#333" font-family="Liberation Sans">F</text></svg>
<svg class="a" style="left:1899px;top:533px" width="14" height="10" viewBox="0 0 14 10" ><rect x="0.5" y="0.5" width="13" height="9" rx="1.5" fill="#8c8c8c" stroke="#555"/></svg>
<svg class="a" style="left:1896px;top:554px" width="22" height="19" viewBox="0 0 22 19" ><path d="M2 2.5 H14 M2 5.5 H14 M2 8.5 H14" stroke="#555" stroke-width="1" stroke-dasharray="1 1"/><path d="M2 17 L6 11 H11" stroke="#444" stroke-width="1" fill="none"/><text x="14" y="18" font-size="8" font-weight="bold" fill="#333" font-family="Liberation Sans">F</text></svg>
<div class="a" style="left:1892px;top:575px;width:27px;height:1px;background:#a8a8a8"></div>
<div class="a" style="left:0;top:968px;width:1919px;height:21px;background:#f0f0f0"></div>
<div class="a" style="left:0;top:968px;width:1891px;height:1px;background:#000"></div>
<div class="a" style="left:1891px;top:986px;width:28px;height:1px;background:#a0a0a0"></div>
<div class="a" style="left:0;top:969px;width:2px;height:18px;background:#8a8a8a"></div>
<div class="a" style="left:90px;top:968px;width:88px;height:19px;box-sizing:border-box;background:#fff;border:1px solid #000;border-top:none;box-shadow:1px 1px 0 #999"></div>
<div class="a" style="left:91px;top:966px;width:86px;height:3px;background:#fff"></div>
<div class="t" style="left:16px;top:972.4px;font-size:11px;color:#7a7a7a">XAUUSD,H4</div>
<div class="t" style="left:101px;top:972.4px;font-size:11px;color:#000">XAUUSD,M5</div>
<div class="t" style="left:188px;top:972.4px;font-size:11px;color:#7a7a7a">XAUUSD,M15</div>
<div class="t" style="left:280px;top:972.4px;font-size:11px;color:#7a7a7a">XAUUSD,M15</div>
<div class="t" style="left:372px;top:972.4px;font-size:11px;color:#7a7a7a">XMRUSD,M5</div>
<div class="t" style="left:460px;top:972.4px;font-size:11px;color:#7a7a7a">DOGEUSD,M15</div>
<div class="a" style="left:270px;top:971px;width:1px;height:13px;background:#777"></div>
<div class="a" style="left:362px;top:971px;width:1px;height:13px;background:#777"></div>
<div class="a" style="left:450px;top:971px;width:1px;height:13px;background:#777"></div>
<div class="a" style="left:549px;top:971px;width:1px;height:13px;background:#777"></div>
<svg class="a" style="left:1859px;top:973px" width="6" height="8" viewBox="0 0 6 8" ><path d="M5 0 V8 L0.5 4 Z" fill="#7a7a7a"/></svg>
<svg class="a" style="left:1880px;top:973px" width="6" height="8" viewBox="0 0 6 8" ><path d="M1 0 V8 L5.5 4 Z" fill="#7a7a7a"/></svg>
<div class="a" style="left:0;top:989px;width:1919px;height:21px;background:#f0f0f0"></div>
<div class="a" style="left:0;top:988px;width:1919px;height:1px;background:#fbfbfb"></div>
<div class="t" style="left:2px;top:995px;font-size:11.5px;letter-spacing:-0.2px">For Help, press F1</div>
<div class="a" style="left:1207px;top:992px;width:1px;height:17px;background:#a0a0a0"></div>
<div class="a" style="left:1323px;top:992px;width:1px;height:17px;background:#a0a0a0"></div>
<div class="a" style="left:1425px;top:992px;width:1px;height:17px;background:#a0a0a0"></div>
<div class="a" style="left:1496px;top:992px;width:1px;height:17px;background:#a0a0a0"></div>
<div class="a" style="left:1567px;top:992px;width:1px;height:17px;background:#a0a0a0"></div>
<div class="a" style="left:1635px;top:992px;width:1px;height:17px;background:#a0a0a0"></div>
<div class="a" style="left:1705px;top:992px;width:1px;height:17px;background:#a0a0a0"></div>
<div class="a" style="left:1771px;top:992px;width:1px;height:17px;background:#a0a0a0"></div>
<div class="t" style="left:1213px;top:995px;font-size:11.7px;width:108px;overflow:hidden">#2A November 23 2025</div>
<div class="t" style="left:1804px;top:995px;font-size:11.5px">30103/8 kb</div>
<svg class="a" style="left:1777px;top:994px" width="24" height="12" viewBox="0 0 24 12" ><rect x="0.0" y="0" width="1.4" height="5" fill="#4f8a22"/><rect x="0.0" y="5" width="1.4" height="7" fill="#b8281c"/><rect x="2.4" y="0" width="1.4" height="5" fill="#4f8a22"/><rect x="2.4" y="5" width="1.4" height="7" fill="#b8281c"/><rect x="4.8" y="0" width="1.4" height="5" fill="#4f8a22"/><rect x="4.8" y="5" width="1.4" height="7" fill="#b8281c"/><rect x="7.2" y="0" width="1.4" height="5" fill="#4f8a22"/><rect x="7.2" y="5" width="1.4" height="7" fill="#b8281c"/><rect x="9.6" y="0" width="1.4" height="5" fill="#4f8a22"/><rect x="9.6" y="5" width="1.4" height="7" fill="#b8281c"/><rect x="12.0" y="0" width="1.4" height="3" fill="#4f8a22"/><rect x="12.0" y="3" width="1.4" height="9" fill="#b8281c"/><rect x="14.4" y="0" width="1.4" height="3" fill="#4f8a22"/><rect x="14.4" y="3" width="1.4" height="9" fill="#b8281c"/><rect x="16.8" y="0" width="1.4" height="3" fill="#4f8a22"/><rect x="16.8" y="3" width="1.4" height="9" fill="#b8281c"/><rect x="19.2" y="0" width="1.4" height="3" fill="#4f8a22"/><rect x="19.2" y="3" width="1.4" height="9" fill="#b8281c"/><rect x="21.6" y="0" width="1.4" height="3" fill="#4f8a22"/><rect x="21.6" y="3" width="1.4" height="9" fill="#b8281c"/></svg>
<div class="a" style="left:1063px;top:653px;width:552px;height:289px;box-sizing:border-box;background:#f0f0f0;border-radius:8px;box-shadow:0 0 2px rgba(0,0,0,.4)"></div>
<div class="a" style="left:1071px;top:700px;width:434px;height:232px;box-sizing:border-box;background:#fff;border:1px solid #828790"></div>
<div class="btn" style="left:1514px;top:910px;width:93px"><u>C</u>lose</div>
<div class="a" style="left:1139px;top:855px;width:106px;height:18px;background:#f0f0f0"></div>
<svg class="a" style="left:1078px;top:852px" width="60" height="60" viewBox="0 0 60 60" shape-rendering="crispEdges"><path d="M7.5 0 V26 M28.5 0 V12.5 H38 M13 31.5 H18 M28.5 38 V48.5 H38" stroke="#808080" stroke-dasharray="1 1" fill="none"/><rect x="3.5" y="26.5" width="8" height="8" fill="#fff" stroke="#919191"/><path d="M5.5 30.5 H9.5" stroke="#3a5fb0"/></svg>
<svg class="a" style="left:1120px;top:844px" width="15" height="8" viewBox="0 0 15 8" ><rect x="0.5" y="-8.5" width="13" height="13" rx="2.2" fill="#f3d64e" stroke="#c49a1c"/></svg>
<svg class="a" style="left:1120px;top:857px" width="16" height="16" viewBox="0 0 16 16" ><rect x="0.5" y="0.5" width="13" height="13" rx="2.2" fill="#f3d64e" stroke="#c49a1c"/><text x="3.2" y="10.4" font-size="10" font-style="italic" font-weight="bold" font-family="Liberation Serif" fill="#6a4a04">f</text><rect x="8.6" y="8.6" width="5" height="5" transform="rotate(45 11.1 11.1)" fill="#f6e27a" stroke="#b8901a" stroke-width="0.9"/></svg>
<svg class="a" style="left:1120px;top:893px" width="16" height="16" viewBox="0 0 16 16" ><rect x="0.5" y="0.5" width="13" height="13" rx="2.2" fill="#f3d64e" stroke="#c49a1c"/><text x="3.2" y="10.4" font-size="10" font-style="italic" font-weight="bold" font-family="Liberation Serif" fill="#6a4a04">f</text><rect x="8.6" y="8.6" width="5" height="5" transform="rotate(45 11.1 11.1)" fill="#f6e27a" stroke="#b8901a" stroke-width="0.9"/></svg>
<svg class="a" style="left:1098px;top:875px" width="17" height="15" viewBox="0 0 17 15" ><rect x="0.7" y="0.7" width="15" height="13" rx="1.2" fill="#fff" stroke="#2a5fe0" stroke-width="1.4"/><rect x="0.7" y="0.7" width="15" height="3.3" fill="#2a5fe0"/><path d="M3.5 11 q2 -6 4 -3 t4.5 -3" stroke="#6a8fe8" stroke-width="1.3" fill="none"/><path d="M10 2.3 h1 M12 2.3 h1" stroke="#fff"/></svg>
<div class="t" style="left:1140px;top:859px;font-size:11px;letter-spacing:-0.4px">BandLevelsPlusBands</div>
<div class="t" style="left:1119.5px;top:877px;font-size:11px">Indicator window 1</div>
<div class="t" style="left:1140px;top:895px;font-size:11px;letter-spacing:-0.15px">iStoch-iBands_1.0</div>
<div class="a" style="left:1065px;top:0px;width:603px;height:852px;box-sizing:border-box;background:#f0f0f0;border-radius:8px;box-shadow:0 1px 3px rgba(0,0,0,.35)"></div>
<div class="a" style="left:1065px;top:0;width:602px;height:30px;background:#f3f3f3;border-radius:7px 7px 0 0"></div>
<div class="t" style="left:1074px;top:9.5px;font-size:12px;letter-spacing:-0.2px;color:#8c8c8c">Custom Indicator - BandLevelsPlusBands</div>
<div class="t" style="left:1596px;top:9px;font-size:12px;color:#333">?</div>
<svg class="a" style="left:1640px;top:10px" width="11" height="11" viewBox="0 0 11 11" ><path d="M0.5 0.5 L10.5 10.5 M10.5 0.5 L0.5 10.5" stroke="#333" stroke-width="1"/></svg>
<div class="a" style="left:1072px;top:58px;width:590px;height:759px;box-sizing:border-box;background:#f9f9f9;border:1px solid #e0e0e0"></div>
<div class="a" style="left:1073px;top:40px;width:41px;height:18px;box-sizing:border-box;background:#f3f3f3;border:1px solid #e2e2e2;border-bottom:none;border-radius:2px 2px 0 0"></div>
<div class="a" style="left:1114px;top:40px;width:52px;height:18px;box-sizing:border-box;background:#f3f3f3;border:1px solid #e2e2e2;border-bottom:none;border-radius:2px 2px 0 0"></div>
<div class="a" style="left:1211px;top:40px;width:41px;height:18px;box-sizing:border-box;background:#f3f3f3;border:1px solid #e2e2e2;border-bottom:none;border-radius:2px 2px 0 0"></div>
<div class="a" style="left:1252px;top:40px;width:68px;height:18px;box-sizing:border-box;background:#f3f3f3;border:1px solid #e2e2e2;border-bottom:none;border-radius:2px 2px 0 0"></div>
<div class="a" style="left:1166px;top:38px;width:46px;height:21px;box-sizing:border-box;background:#f9f9f9;border:1px solid #e0e0e0;border-bottom:none;border-radius:3px 3px 0 0"></div>
<div class="t" style="left:1079px;top:45px;font-size:11px;letter-spacing:-0.25px">About</div>
<div class="t" style="left:1120px;top:45px;font-size:11px;letter-spacing:-0.25px">Common</div>
<div class="t" style="left:1174px;top:43px;font-size:11px;letter-spacing:-0.25px">Inputs</div>
<div class="t" style="left:1215px;top:45px;font-size:11px;letter-spacing:-0.25px">Colors</div>
<div class="t" style="left:1258px;top:45px;font-size:11px;letter-spacing:-0.25px">Visualization</div>
<div class="a" style="left:1083px;top:68px;width:457px;height:739px;box-sizing:border-box;background:#fff;border:1px solid #767c8a;overflow:hidden"></div>
<div class="a" style="left:1522px;top:69px;width:17px;height:737px;background:#f0f0f0"></div>
<div class="a" style="left:1530px;top:87px;width:2px;height:490px;background:#8b8b8b;border-radius:1px"></div>
<div class="a" style="left:1302px;top:70px;width:1px;height:23px;background:#e5e5e5"></div>
<div class="a" style="left:1520px;top:70px;width:1px;height:23px;background:#e5e5e5"></div>
<div class="t" style="left:1091px;top:76px;font-size:11px;letter-spacing:-0.25px">Variable</div>
<div class="t" style="left:1309px;top:76px;font-size:11px;letter-spacing:-0.25px">Value</div>
<svg width="0" height="0" style="position:absolute"><defs><linearGradient id="og"><stop offset="0" stop-color="#ff7a00"/><stop offset="0.5" stop-color="#ffee00"/><stop offset="1" stop-color="#ff7a00"/></linearGradient><symbol id="ic-ab" viewBox="0 0 15.2 15.2"><path d="M1.5 0.5 H11 L14.5 4 V14.5 L12.8 13 L11.2 15 L9.6 13.2 L8 14.6 L6.4 13.2 L4.8 14.6 L3.2 13.2 L0.5 14.8 V1.5 Q0.5 0.5 1.5 0.5Z" fill="#efe07a" stroke="#c8b44a"/><path d="M11 0.5 V4 H14.5" fill="#f8f0b0" stroke="#c8b44a"/><text x="1.8" y="10.6" font-size="8.8" font-family="Liberation Sans" fill="#3c3600" font-weight="bold" letter-spacing="-0.6">ab</text></symbol><symbol id="ic-b" viewBox="0 0 15.2 15.2"><path d="M1.5 0.5 H11 L14.5 4 V14.5 L12.8 13 L11.2 15 L9.6 13.2 L8 14.6 L6.4 13.2 L4.8 14.6 L3.2 13.2 L0.5 14.8 V1.5 Q0.5 0.5 1.5 0.5Z" fill="#7fe08a" stroke="#3fb84f"/><path d="M11 0.5 V4 H14.5" fill="#c8f5cc" stroke="#3fb84f"/><path d="M2.5 10 L7.5 5.5 M9 9 L12 9.5" stroke="#167a24" stroke-width="1.4" fill="none"/></symbol><symbol id="ic-i" viewBox="0 0 15.2 15.2"><path d="M1.5 0.5 H11 L14.5 4 V14.5 L12.8 13 L11.2 15 L9.6 13.2 L8 14.6 L6.4 13.2 L4.8 14.6 L3.2 13.2 L0.5 14.8 V1.5 Q0.5 0.5 1.5 0.5Z" fill="#8fbcec" stroke="#5f96d6"/><path d="M11 0.5 V4 H14.5" fill="#d4e6fa" stroke="#5f96d6"/><text x="1.2" y="11" font-size="7.6" font-weight="bold" font-family="Liberation Sans" fill="#03153a" letter-spacing="-0.55">123</text></symbol><symbol id="ic-d" viewBox="0 0 15.2 15.2"><path d="M1.5 0.5 H11 L14.5 4 V14.5 L12.8 13 L11.2 15 L9.6 13.2 L8 14.6 L6.4 13.2 L4.8 14.6 L3.2 13.2 L0.5 14.8 V1.5 Q0.5 0.5 1.5 0.5Z" fill="#8fdbe6" stroke="#4fb4c8"/><path d="M11 0.5 V4 H14.5" fill="#d4f3f8" stroke="#4fb4c8"/><text x="1.6" y="10.4" font-size="8.6" font-weight="bold" font-family="Liberation Sans" fill="#03404c" letter-spacing="-0.8">1/2</text></symbol><symbol id="ic-c" viewBox="0 0 15.2 15.2"><path d="M1.5 0.5 H11 L14.5 4 V14.5 L12.8 13 L11.2 15 L9.6 13.2 L8 14.6 L6.4 13.2 L4.8 14.6 L3.2 13.2 L0.5 14.8 V1.5 Q0.5 0.5 1.5 0.5Z" fill="#fff" stroke="#7a7a7a"/><path d="M11 0.5 V4 H14.5" fill="#fff" stroke="#7a7a7a"/><rect x="2" y="6" width="10.5" height="4.6" fill="url(#og)"/></symbol></defs></svg>
<div class="a" style="left:0;top:0;width:1540px;height:806px;overflow:hidden;pointer-events:none">
<svg class="a" style="left:1086px;top:96px" width="16" height="16"><use href="#ic-ab"/></svg>
<div class="rt" style="left:1106px;top:99px">UpperMiddleLowerLinesInputs</div>
<div class="rt" style="left:1309px;top:99px">Upper Middle Lower Lines Periods</div>
<div class="row" style="top:113px;height:21px;box-sizing:border-box;background:#ebebeb;border-top:1px solid #d4d4d4;border-bottom:1px solid #c2c2c2"></div>
<svg class="a" style="left:1086px;top:116px" width="16" height="16"><use href="#ic-b"/></svg>
<div class="rt" style="left:1106px;top:119px">UseBandLines</div>
<div class="rt" style="left:1305px;top:119px">true</div>
<svg class="a" style="left:1086px;top:136px" width="16" height="16"><use href="#ic-i"/></svg>
<div class="rt" style="left:1106px;top:139px">Period</div>
<div class="rt" style="left:1306px;top:139px">10</div>
<div class="row" style="top:153px;height:21px;box-sizing:border-box;background:#ebebeb;border-top:1px solid #d4d4d4;border-bottom:1px solid #c2c2c2"></div>
<svg class="a" style="left:1086px;top:156px" width="16" height="16"><use href="#ic-i"/></svg>
<div class="rt" style="left:1106px;top:159px">BB_Applied_Price</div>
<div class="rt" style="left:1306px;top:159px">Close price</div>
<svg class="a" style="left:1086px;top:176px" width="16" height="16"><use href="#ic-i"/></svg>
<div class="rt" style="left:1106px;top:179px">BB_Shift</div>
<div class="rt" style="left:1306px;top:179px">0</div>
<div class="row" style="top:193px;height:21px;box-sizing:border-box;background:#ebebeb;border-top:1px solid #d4d4d4;border-bottom:1px solid #c2c2c2"></div>
<svg class="a" style="left:1086px;top:196px" width="16" height="16"><use href="#ic-d"/></svg>
<div class="rt" style="left:1106px;top:199px">BB_Deviation</div>
<div class="rt" style="left:1306px;top:199px">1.75</div>
<svg class="a" style="left:1086px;top:216px" width="16" height="16"><use href="#ic-d"/></svg>
<div class="rt" style="left:1106px;top:219px">Deviation 2</div>
<div class="rt" style="left:1306px;top:219px">3.5</div>
<div class="row" style="top:233px;height:21px;box-sizing:border-box;background:#ebebeb;border-top:1px solid #d4d4d4;border-bottom:1px solid #c2c2c2"></div>
<svg class="a" style="left:1086px;top:236px" width="16" height="16"><use href="#ic-d"/></svg>
<div class="rt" style="left:1106px;top:239px">Deviation 2</div>
<div class="rt" style="left:1306px;top:239px">4.5</div>
<svg class="a" style="left:1086px;top:256px" width="16" height="16"><use href="#ic-ab"/></svg>
<div class="rt" style="left:1106px;top:259px">MiddleLineMA</div>
<div class="rt" style="left:1309px;top:259px">Middle Line MA Customization</div>
<div class="row" style="top:273px;height:21px;box-sizing:border-box;background:#ebebeb;border-top:1px solid #d4d4d4;border-bottom:1px solid #c2c2c2"></div>
<svg class="a" style="left:1086px;top:276px" width="16" height="16"><use href="#ic-i"/></svg>
<div class="rt" style="left:1106px;top:279px">MiddleLine_Style</div>
<div class="rt" style="left:1306px;top:279px">Solid</div>
<svg class="a" style="left:1086px;top:296px" width="16" height="16"><use href="#ic-i"/></svg>
<div class="rt" style="left:1106px;top:299px">MiddleLine_Width</div>
<div class="rt" style="left:1306px;top:299px">1</div>
<div class="row" style="top:313px;height:21px;box-sizing:border-box;background:#ebebeb;border-top:1px solid #d4d4d4;border-bottom:1px solid #c2c2c2"></div>
<svg class="a" style="left:1086px;top:316px" width="16" height="16"><use href="#ic-c"/></svg>
<div class="rt" style="left:1106px;top:319px">MiddleLine_Color</div>
<div class="a" style="left:1306px;top:318px;width:10px;height:10px;border:1px solid #8a8a8a;background:#ff0000"></div>
<div class="rt" style="left:1322px;top:319px">Red</div>
<svg class="a" style="left:1086px;top:336px" width="16" height="16"><use href="#ic-i"/></svg>
<div class="rt" style="left:1106px;top:339px">Line_Style</div>
<div class="rt" style="left:1306px;top:339px">Solid</div>
<div class="row" style="top:353px;height:21px;box-sizing:border-box;background:#ebebeb;border-top:1px solid #d4d4d4;border-bottom:1px solid #c2c2c2"></div>
<svg class="a" style="left:1086px;top:356px" width="16" height="16"><use href="#ic-i"/></svg>
<div class="rt" style="left:1106px;top:359px">Line_Width</div>
<div class="rt" style="left:1306px;top:359px">1</div>
<svg class="a" style="left:1086px;top:376px" width="16" height="16"><use href="#ic-c"/></svg>
<div class="rt" style="left:1106px;top:379px">Upper_Color</div>
<div class="a" style="left:1306px;top:378px;width:10px;height:10px;border:1px solid #8a8a8a;background:#ffff00"></div>
<div class="rt" style="left:1322px;top:379px">Yellow</div>
<div class="row" style="top:393px;height:21px;box-sizing:border-box;background:#ebebeb;border-top:1px solid #d4d4d4;border-bottom:1px solid #c2c2c2"></div>
<svg class="a" style="left:1086px;top:396px" width="16" height="16"><use href="#ic-c"/></svg>
<div class="rt" style="left:1106px;top:399px">Lower_Color</div>
<div class="a" style="left:1306px;top:398px;width:10px;height:10px;border:1px solid #8a8a8a;background:#00ff00"></div>
<div class="rt" style="left:1322px;top:399px">Lime</div>
<svg class="a" style="left:1086px;top:416px" width="16" height="16"><use href="#ic-i"/></svg>
<div class="rt" style="left:1106px;top:419px">Line1_Style</div>
<div class="rt" style="left:1306px;top:419px">Solid</div>
<div class="row" style="top:433px;height:21px;box-sizing:border-box;background:#ebebeb;border-top:1px solid #d4d4d4;border-bottom:1px solid #c2c2c2"></div>
<svg class="a" style="left:1086px;top:436px" width="16" height="16"><use href="#ic-i"/></svg>
<div class="rt" style="left:1106px;top:439px">Line1_Width</div>
<div class="rt" style="left:1306px;top:439px">1</div>
<svg class="a" style="left:1086px;top:456px" width="16" height="16"><use href="#ic-c"/></svg>
<div class="rt" style="left:1106px;top:459px">Upper1_Color</div>
<div class="a" style="left:1306px;top:458px;width:10px;height:10px;border:1px solid #8a8a8a;background:#ffff00"></div>
<div class="rt" style="left:1322px;top:459px">Yellow</div>
<div class="row" style="top:473px;height:21px;box-sizing:border-box;background:#ebebeb;border-top:1px solid #d4d4d4;border-bottom:1px solid #c2c2c2"></div>
<svg class="a" style="left:1086px;top:476px" width="16" height="16"><use href="#ic-c"/></svg>
<div class="rt" style="left:1106px;top:479px">Lower1_Color</div>
<div class="a" style="left:1306px;top:478px;width:10px;height:10px;border:1px solid #8a8a8a;background:#00ff00"></div>
<div class="rt" style="left:1322px;top:479px">Lime</div>
<svg class="a" style="left:1086px;top:496px" width="16" height="16"><use href="#ic-i"/></svg>
<div class="rt" style="left:1106px;top:499px">Line2_Style</div>
<div class="rt" style="left:1306px;top:499px">Solid</div>
<div class="row" style="top:513px;height:21px;box-sizing:border-box;background:#ebebeb;border-top:1px solid #d4d4d4;border-bottom:1px solid #c2c2c2"></div>
<svg class="a" style="left:1086px;top:516px" width="16" height="16"><use href="#ic-i"/></svg>
<div class="rt" style="left:1106px;top:519px">Line2_Width</div>
<div class="rt" style="left:1306px;top:519px">1</div>
<svg class="a" style="left:1086px;top:536px" width="16" height="16"><use href="#ic-c"/></svg>
<div class="rt" style="left:1106px;top:539px">Upper2_Color</div>
<div class="a" style="left:1306px;top:538px;width:10px;height:10px;border:1px solid #8a8a8a;background:#ffff00"></div>
<div class="rt" style="left:1322px;top:539px">Yellow</div>
<div class="row" style="top:553px;height:21px;box-sizing:border-box;background:#ebebeb;border-top:1px solid #d4d4d4;border-bottom:1px solid #c2c2c2"></div>
<svg class="a" style="left:1086px;top:556px" width="16" height="16"><use href="#ic-c"/></svg>
<div class="rt" style="left:1106px;top:559px">Lower2_Color</div>
<div class="a" style="left:1306px;top:558px;width:10px;height:10px;border:1px solid #8a8a8a;background:#00ff00"></div>
<div class="rt" style="left:1322px;top:559px">Lime</div>
<svg class="a" style="left:1086px;top:576px" width="16" height="16"><use href="#ic-ab"/></svg>
<div class="rt" style="left:1106px;top:579px">BandPeriodInputs</div>
<div class="rt" style="left:1309px;top:579px">Bands Period Customization</div>
<div class="row" style="top:593px;height:21px;box-sizing:border-box;background:#ebebeb;border-top:1px solid #d4d4d4;border-bottom:1px solid #c2c2c2"></div>
<svg class="a" style="left:1086px;top:596px" width="16" height="16"><use href="#ic-b"/></svg>
<div class="rt" style="left:1106px;top:599px">UseBands</div>
<div class="rt" style="left:1305px;top:599px">true</div>
<svg class="a" style="left:1086px;top:616px" width="16" height="16"><use href="#ic-i"/></svg>
<div class="rt" style="left:1106px;top:619px">Period</div>
<div class="rt" style="left:1306px;top:619px">10</div>
<div class="row" style="top:633px;height:21px;box-sizing:border-box;background:#ebebeb;border-top:1px solid #d4d4d4;border-bottom:1px solid #c2c2c2"></div>
<svg class="a" style="left:1086px;top:636px" width="16" height="16"><use href="#ic-i"/></svg>
<div class="rt" style="left:1106px;top:639px">BBands_Applied_Price</div>
<div class="rt" style="left:1306px;top:639px">Close price</div>
<svg class="a" style="left:1086px;top:656px" width="16" height="16"><use href="#ic-i"/></svg>
<div class="rt" style="left:1106px;top:659px">BBands_Shift</div>
<div class="rt" style="left:1306px;top:659px">0</div>
<div class="row" style="top:673px;height:21px;box-sizing:border-box;background:#ebebeb;border-top:1px solid #d4d4d4;border-bottom:1px solid #c2c2c2"></div>
<svg class="a" style="left:1086px;top:676px" width="16" height="16"><use href="#ic-d"/></svg>
<div class="rt" style="left:1106px;top:679px">BBands_Deviation</div>
<div class="rt" style="left:1306px;top:679px">1.75</div>
<svg class="a" style="left:1086px;top:696px" width="16" height="16"><use href="#ic-d"/></svg>
<div class="rt" style="left:1106px;top:699px">Deviation 2</div>
<div class="rt" style="left:1306px;top:699px">3.5</div>
<div class="row" style="top:713px;height:21px;box-sizing:border-box;background:#ebebeb;border-top:1px solid #d4d4d4;border-bottom:1px solid #c2c2c2"></div>
<svg class="a" style="left:1086px;top:716px" width="16" height="16"><use href="#ic-d"/></svg>
<div class="rt" style="left:1106px;top:719px">Deviation 3</div>
<div class="rt" style="left:1306px;top:719px">4.5</div>
<svg class="a" style="left:1086px;top:736px" width="16" height="16"><use href="#ic-ab"/></svg>
<div class="rt" style="left:1106px;top:739px">MiddleBandMA</div>
<div class="rt" style="left:1309px;top:739px">Middle Band MA Customization</div>
<div class="row" style="top:753px;height:21px;box-sizing:border-box;background:#ebebeb;border-top:1px solid #d4d4d4;border-bottom:1px solid #c2c2c2"></div>
<svg class="a" style="left:1086px;top:756px" width="16" height="16"><use href="#ic-i"/></svg>
<div class="rt" style="left:1106px;top:759px">MiddleBand_Style</div>
<div class="rt" style="left:1306px;top:759px">Solid</div>
<svg class="a" style="left:1086px;top:776px" width="16" height="16"><use href="#ic-i"/></svg>
<div class="rt" style="left:1106px;top:779px">MiddleBand_Width</div>
<div class="rt" style="left:1306px;top:779px">1</div>
<div class="row" style="top:793px;height:21px;box-sizing:border-box;background:#ebebeb;border-top:1px solid #d4d4d4;border-bottom:1px solid #c2c2c2"></div>
<svg class="a" style="left:1086px;top:796px" width="16" height="16"><use href="#ic-c"/></svg>
<div class="rt" style="left:1106px;top:799px">MiddleBand_Color</div>
<div class="a" style="left:1306px;top:798px;width:10px;height:10px;border:1px solid #8a8a8a;background:#ff0000"></div>
<div class="rt" style="left:1322px;top:799px">Red</div>
</div>
<div class="a" style="left:1302px;top:94px;width:1px;height:712px;background:#f4f4f4"></div>
<div class="btn" style="left:1548px;top:751px;width:103px"><u>L</u>oad</div>
<div class="btn" style="left:1548px;top:784px;width:103px"><u>S</u>ave</div>
<div class="btn" style="left:1424px;top:822px;width:73px">OK</div>
<div class="btn" style="left:1505px;top:822px;width:73px">Cancel</div>
<div class="btn" style="left:1586px;top:822px;width:73px">Reset</div>
<svg class="a" style="left:1657px;top:842px" width="9" height="9" viewBox="0 0 9 9" shape-rendering="crispEdges"><path d="M6 1 h2 M6 4 h2 M3 4 h2 M6 7 h2 M3 7 h2 M0 7 h2" stroke="#b0b0b0" stroke-width="1.6"/></svg>
</body></html>
